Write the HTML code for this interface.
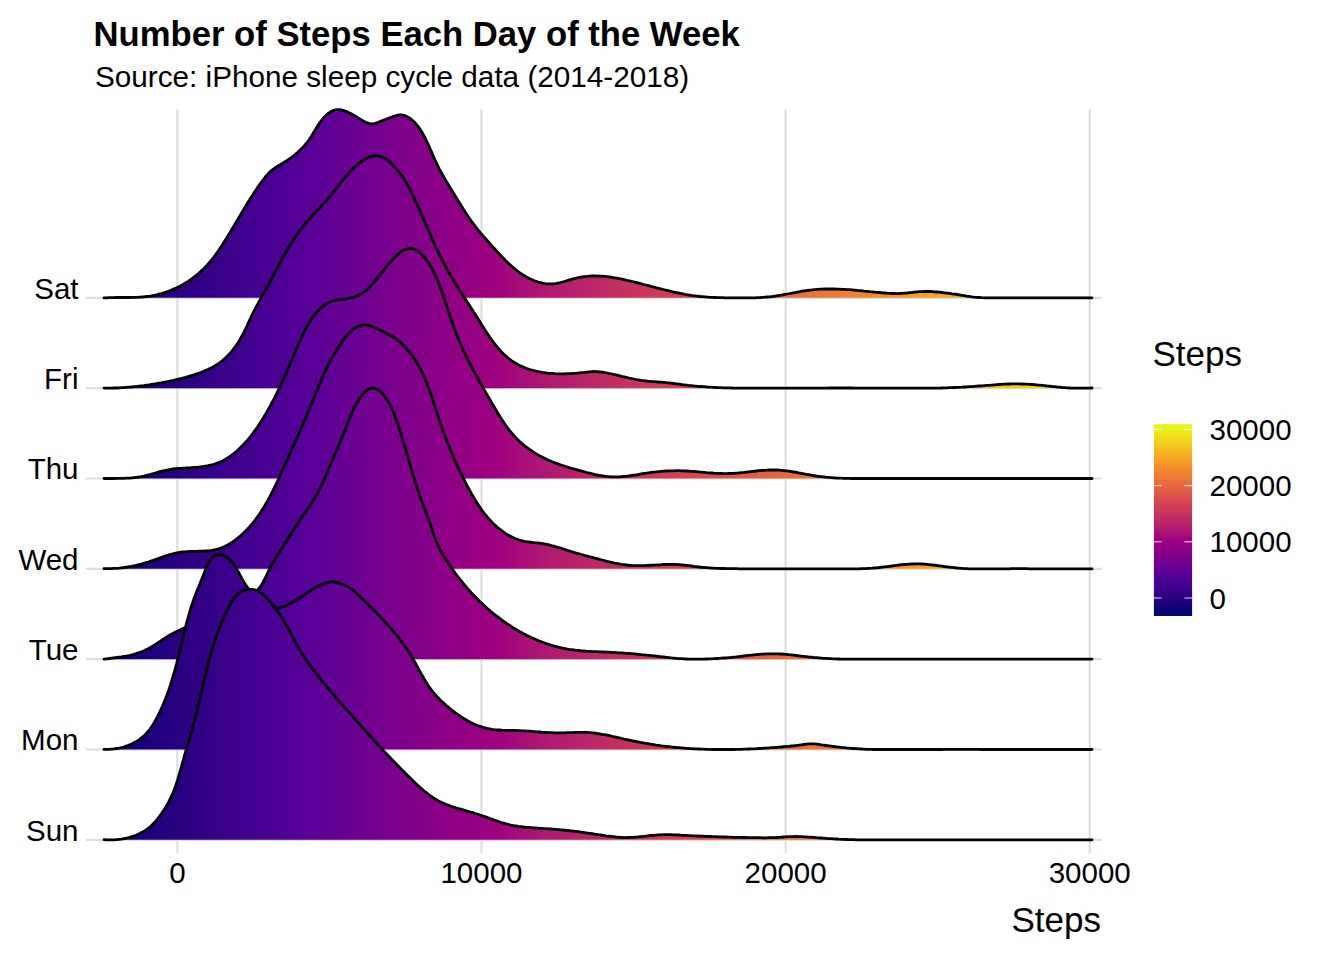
<!DOCTYPE html><html><head><meta charset="utf-8"><style>html,body{margin:0;padding:0;background:#fff;overflow:hidden}svg{display:block}</style></head><body><svg width="1344" height="960" viewBox="0 0 1344 960"><defs><linearGradient id="g" gradientUnits="userSpaceOnUse" x1="104.0" y1="0" x2="1092.0" y2="0"><stop offset="0.0000" stop-color="#060375"/><stop offset="0.0250" stop-color="#140279"/><stop offset="0.0500" stop-color="#1f017e"/><stop offset="0.0750" stop-color="#290082"/><stop offset="0.1000" stop-color="#320086"/><stop offset="0.1250" stop-color="#3b008b"/><stop offset="0.1500" stop-color="#440090"/><stop offset="0.1750" stop-color="#4d0094"/><stop offset="0.2000" stop-color="#560099"/><stop offset="0.2250" stop-color="#600096"/><stop offset="0.2500" stop-color="#6a0093"/><stop offset="0.2750" stop-color="#74008f"/><stop offset="0.3000" stop-color="#7d008c"/><stop offset="0.3250" stop-color="#860089"/><stop offset="0.3500" stop-color="#8f0085"/><stop offset="0.3750" stop-color="#970082"/><stop offset="0.4000" stop-color="#a0037f"/><stop offset="0.4250" stop-color="#a70f79"/><stop offset="0.4500" stop-color="#af1973"/><stop offset="0.4750" stop-color="#b6216d"/><stop offset="0.5000" stop-color="#bd2967"/><stop offset="0.5250" stop-color="#c33161"/><stop offset="0.5500" stop-color="#ca385b"/><stop offset="0.5750" stop-color="#d03f55"/><stop offset="0.6000" stop-color="#d7464f"/><stop offset="0.6250" stop-color="#db504b"/><stop offset="0.6500" stop-color="#df5a47"/><stop offset="0.6750" stop-color="#e36342"/><stop offset="0.7000" stop-color="#e86c3e"/><stop offset="0.7250" stop-color="#eb7538"/><stop offset="0.7500" stop-color="#ef7e33"/><stop offset="0.7750" stop-color="#f3882d"/><stop offset="0.8000" stop-color="#f79126"/><stop offset="0.8250" stop-color="#f69d25"/><stop offset="0.8500" stop-color="#f5aa24"/><stop offset="0.8750" stop-color="#f4b622"/><stop offset="0.9000" stop-color="#f2c320"/><stop offset="0.9250" stop-color="#f0cf1e"/><stop offset="0.9500" stop-color="#eedc1c"/><stop offset="0.9750" stop-color="#ebe819"/><stop offset="1.0000" stop-color="#e8f415"/></linearGradient></defs><rect width="1344" height="960" fill="#fff"/><line x1="85.9" x2="1101.8" y1="297.85" y2="297.85" stroke="#dedede" stroke-width="2.2"/><line x1="85.9" x2="1101.8" y1="388.18" y2="388.18" stroke="#dedede" stroke-width="2.2"/><line x1="85.9" x2="1101.8" y1="478.51" y2="478.51" stroke="#dedede" stroke-width="2.2"/><line x1="85.9" x2="1101.8" y1="568.84" y2="568.84" stroke="#dedede" stroke-width="2.2"/><line x1="85.9" x2="1101.8" y1="659.17" y2="659.17" stroke="#dedede" stroke-width="2.2"/><line x1="85.9" x2="1101.8" y1="749.50" y2="749.50" stroke="#dedede" stroke-width="2.2"/><line x1="85.9" x2="1101.8" y1="839.83" y2="839.83" stroke="#dedede" stroke-width="2.2"/><line x1="177.35" x2="177.35" y1="109" y2="853.3" stroke="#dedede" stroke-width="2.2"/><line x1="481.48" x2="481.48" y1="109" y2="853.3" stroke="#dedede" stroke-width="2.2"/><line x1="785.61" x2="785.61" y1="109" y2="853.3" stroke="#dedede" stroke-width="2.2"/><line x1="1089.74" x2="1089.74" y1="109" y2="853.3" stroke="#dedede" stroke-width="2.2"/><path d="M104.03 297.85 L104.03 297.85 L106.5 297.8L109.0 297.7L111.5 297.6L114.0 297.6L116.5 297.5L119.1 297.5L121.6 297.5L124.1 297.5L126.6 297.5L129.1 297.5L131.6 297.4L134.1 297.4L136.6 297.3L139.1 297.1L141.6 297.0L144.1 296.8L146.6 296.5L149.1 296.2L151.5 295.8L154.0 295.3L156.5 294.8L158.9 294.2L161.3 293.6L163.7 292.9L166.1 292.1L168.5 291.3L170.8 290.4L173.1 289.4L175.4 288.4L177.7 287.3L179.9 286.2L182.1 285.0L184.3 283.7L186.4 282.4L188.5 281.1L190.6 279.6L192.6 278.2L194.6 276.7L196.6 275.1L198.5 273.5L200.4 271.8L202.2 270.1L204.0 268.4L205.8 266.6L207.5 264.8L209.1 262.9L210.8 261.0L212.3 259.0L213.9 257.1L215.4 255.1L216.8 253.0L218.3 251.0L219.7 248.9L221.1 246.8L222.5 244.7L223.8 242.6L225.1 240.5L226.4 238.4L227.8 236.2L229.1 234.1L230.3 231.9L231.6 229.8L232.9 227.6L234.2 225.5L235.5 223.3L236.7 221.2L238.0 219.0L239.3 216.9L240.6 214.7L241.9 212.6L243.1 210.4L244.4 208.3L245.7 206.1L247.0 204.0L248.3 201.8L249.7 199.7L251.0 197.6L252.4 195.5L253.7 193.4L255.1 191.3L256.5 189.2L257.9 187.1L259.3 185.1L260.8 183.0L262.2 181.0L263.7 179.0L265.3 177.0L266.9 175.1L268.6 173.3L270.4 171.6L272.4 169.9L274.4 168.4L276.4 167.0L278.5 165.7L280.7 164.4L282.8 163.1L285.0 161.8L287.1 160.4L289.2 159.0L291.2 157.6L293.2 156.1L295.2 154.5L297.1 152.9L298.9 151.2L300.7 149.5L302.5 147.7L304.2 145.9L305.8 144.0L307.4 142.0L308.9 140.0L310.3 137.9L311.6 135.8L312.9 133.7L314.2 131.5L315.5 129.4L316.8 127.2L318.1 125.1L319.5 123.0L321.0 121.0L322.6 119.0L324.2 117.1L326.0 115.4L327.9 113.7L329.9 112.3L332.1 111.0L334.4 110.1L336.9 109.7L339.4 109.6L341.9 110.0L344.3 110.7L346.6 111.6L348.9 112.7L351.1 113.8L353.3 115.0L355.5 116.3L357.6 117.6L359.8 118.9L361.9 120.1L364.1 121.4L366.3 122.5L368.7 123.4L371.1 124.0L373.6 123.9L376.0 123.2L378.3 122.3L380.7 121.3L383.0 120.4L385.3 119.5L387.7 118.6L390.0 117.7L392.4 116.9L394.7 116.0L397.1 115.3L399.6 114.9L402.1 115.0L404.5 115.6L406.8 116.5L409.0 117.7L411.1 119.2L413.0 120.8L414.8 122.5L416.4 124.4L418.0 126.4L419.5 128.4L420.8 130.5L422.2 132.6L423.4 134.8L424.6 137.0L425.7 139.2L426.8 141.5L427.9 143.8L428.9 146.0L429.9 148.3L430.9 150.6L431.9 152.9L432.9 155.2L433.9 157.5L434.9 159.8L436.0 162.1L437.1 164.4L438.2 166.6L439.3 168.8L440.5 171.0L441.7 173.2L442.9 175.4L444.2 177.6L445.4 179.8L446.7 181.9L448.0 184.1L449.3 186.2L450.6 188.4L451.9 190.5L453.2 192.6L454.5 194.8L455.8 196.9L457.1 199.0L458.4 201.2L459.7 203.3L461.1 205.4L462.4 207.6L463.7 209.7L465.1 211.8L466.4 213.9L467.8 216.0L469.2 218.1L470.6 220.1L472.1 222.2L473.6 224.2L475.1 226.2L476.6 228.2L478.2 230.1L479.8 232.0L481.4 234.0L483.0 235.9L484.7 237.7L486.4 239.6L488.0 241.5L489.7 243.3L491.4 245.2L493.1 247.1L494.8 248.9L496.4 250.8L498.1 252.6L499.8 254.5L501.5 256.3L503.2 258.1L505.0 259.9L506.8 261.7L508.6 263.4L510.4 265.1L512.3 266.8L514.2 268.4L516.1 270.0L518.1 271.5L520.1 273.0L522.2 274.4L524.3 275.7L526.5 277.0L528.7 278.2L531.0 279.3L533.3 280.3L535.6 281.2L538.0 282.0L540.4 282.6L542.8 283.2L545.3 283.6L547.8 283.8L550.3 283.9L552.8 283.8L555.3 283.6L557.8 283.1L560.2 282.6L562.6 282.0L565.0 281.3L567.4 280.6L569.8 279.9L572.3 279.2L574.7 278.5L577.1 277.9L579.6 277.4L582.0 277.0L584.5 276.6L587.0 276.3L589.5 276.1L592.0 276.0L594.5 275.9L597.0 276.0L599.5 276.1L602.0 276.2L604.5 276.4L607.0 276.7L609.5 277.0L612.0 277.4L614.4 277.8L616.9 278.2L619.4 278.7L621.8 279.2L624.3 279.7L626.7 280.3L629.2 280.8L631.6 281.4L634.0 282.0L636.5 282.6L638.9 283.2L641.3 283.8L643.7 284.5L646.2 285.1L648.6 285.7L651.0 286.4L653.4 287.0L655.9 287.7L658.3 288.3L660.7 288.9L663.1 289.5L665.6 290.1L668.0 290.7L670.4 291.3L672.9 291.9L675.3 292.4L677.8 292.9L680.2 293.4L682.7 293.9L685.1 294.4L687.6 294.8L690.1 295.2L692.6 295.6L695.0 295.9L697.5 296.2L700.0 296.5L702.5 296.7L705.0 296.9L707.5 297.1L710.0 297.3L712.5 297.4L715.0 297.5L717.5 297.6L720.0 297.7L722.5 297.7L725.0 297.8L727.5 297.8L730.0 297.8L732.6 297.9L735.1 297.9L737.6 297.9L740.1 297.9L742.6 297.9L745.1 297.9L747.6 297.9L750.1 297.9L752.6 297.8L755.1 297.8L757.6 297.7L760.1 297.6L762.6 297.4L765.1 297.2L767.6 297.0L770.1 296.8L772.6 296.5L775.1 296.1L777.5 295.7L780.0 295.3L782.5 294.9L784.9 294.5L787.4 294.0L789.9 293.5L792.3 293.0L794.8 292.6L797.3 292.1L799.7 291.7L802.2 291.2L804.7 290.8L807.1 290.5L809.6 290.1L812.1 289.9L814.6 289.6L817.1 289.4L819.6 289.2L822.1 289.1L824.6 289.0L827.1 289.0L829.6 288.9L832.1 289.0L834.6 289.0L837.1 289.1L839.6 289.1L842.1 289.3L844.6 289.4L847.1 289.6L849.6 289.7L852.1 289.9L854.6 290.1L857.1 290.4L859.6 290.6L862.1 290.8L864.6 291.1L867.1 291.3L869.6 291.6L872.1 291.8L874.6 292.1L877.1 292.3L879.6 292.5L882.1 292.8L884.6 293.0L887.1 293.2L889.6 293.3L892.1 293.5L894.6 293.5L897.1 293.6L899.6 293.5L902.1 293.4L904.6 293.2L907.1 293.0L909.6 292.7L912.1 292.5L914.5 292.2L917.0 291.9L919.5 291.7L922.0 291.6L924.5 291.5L927.0 291.5L929.5 291.5L932.1 291.6L934.6 291.8L937.1 292.0L939.5 292.2L942.0 292.5L944.5 292.8L947.0 293.1L949.5 293.4L952.0 293.8L954.5 294.1L956.9 294.5L959.4 294.9L961.9 295.3L964.4 295.7L966.8 296.1L969.3 296.4L971.8 296.8L974.3 297.1L976.8 297.3L979.3 297.5L981.8 297.7L984.3 297.8L986.8 297.8L989.3 297.9L991.8 297.9L994.3 297.9L996.8 297.9L999.3 297.9L1001.8 297.9L1004.3 297.9L1006.8 297.8L1009.3 297.8L1011.8 297.8L1014.3 297.8L1016.8 297.8L1019.3 297.8L1021.9 297.8L1024.4 297.8L1026.9 297.8L1029.4 297.8L1031.9 297.8L1034.4 297.8L1036.9 297.8L1039.4 297.8L1041.9 297.8L1044.4 297.8L1046.9 297.8L1049.4 297.8L1051.9 297.9L1054.4 297.9L1056.9 297.9L1059.4 297.9L1061.9 297.9L1064.4 297.9L1066.9 297.9L1069.5 297.9L1072.0 297.9L1074.5 297.9L1077.0 297.9L1079.5 297.9L1082.0 297.9L1084.5 297.9L1087.0 297.8L1089.5 297.8L1092.0 297.8 L1092.00 297.85 Z" fill="url(#g)"/><path d="M104.03 297.85 L106.5 297.8L109.0 297.7L111.5 297.6L114.0 297.6L116.5 297.5L119.1 297.5L121.6 297.5L124.1 297.5L126.6 297.5L129.1 297.5L131.6 297.4L134.1 297.4L136.6 297.3L139.1 297.1L141.6 297.0L144.1 296.8L146.6 296.5L149.1 296.2L151.5 295.8L154.0 295.3L156.5 294.8L158.9 294.2L161.3 293.6L163.7 292.9L166.1 292.1L168.5 291.3L170.8 290.4L173.1 289.4L175.4 288.4L177.7 287.3L179.9 286.2L182.1 285.0L184.3 283.7L186.4 282.4L188.5 281.1L190.6 279.6L192.6 278.2L194.6 276.7L196.6 275.1L198.5 273.5L200.4 271.8L202.2 270.1L204.0 268.4L205.8 266.6L207.5 264.8L209.1 262.9L210.8 261.0L212.3 259.0L213.9 257.1L215.4 255.1L216.8 253.0L218.3 251.0L219.7 248.9L221.1 246.8L222.5 244.7L223.8 242.6L225.1 240.5L226.4 238.4L227.8 236.2L229.1 234.1L230.3 231.9L231.6 229.8L232.9 227.6L234.2 225.5L235.5 223.3L236.7 221.2L238.0 219.0L239.3 216.9L240.6 214.7L241.9 212.6L243.1 210.4L244.4 208.3L245.7 206.1L247.0 204.0L248.3 201.8L249.7 199.7L251.0 197.6L252.4 195.5L253.7 193.4L255.1 191.3L256.5 189.2L257.9 187.1L259.3 185.1L260.8 183.0L262.2 181.0L263.7 179.0L265.3 177.0L266.9 175.1L268.6 173.3L270.4 171.6L272.4 169.9L274.4 168.4L276.4 167.0L278.5 165.7L280.7 164.4L282.8 163.1L285.0 161.8L287.1 160.4L289.2 159.0L291.2 157.6L293.2 156.1L295.2 154.5L297.1 152.9L298.9 151.2L300.7 149.5L302.5 147.7L304.2 145.9L305.8 144.0L307.4 142.0L308.9 140.0L310.3 137.9L311.6 135.8L312.9 133.7L314.2 131.5L315.5 129.4L316.8 127.2L318.1 125.1L319.5 123.0L321.0 121.0L322.6 119.0L324.2 117.1L326.0 115.4L327.9 113.7L329.9 112.3L332.1 111.0L334.4 110.1L336.9 109.7L339.4 109.6L341.9 110.0L344.3 110.7L346.6 111.6L348.9 112.7L351.1 113.8L353.3 115.0L355.5 116.3L357.6 117.6L359.8 118.9L361.9 120.1L364.1 121.4L366.3 122.5L368.7 123.4L371.1 124.0L373.6 123.9L376.0 123.2L378.3 122.3L380.7 121.3L383.0 120.4L385.3 119.5L387.7 118.6L390.0 117.7L392.4 116.9L394.7 116.0L397.1 115.3L399.6 114.9L402.1 115.0L404.5 115.6L406.8 116.5L409.0 117.7L411.1 119.2L413.0 120.8L414.8 122.5L416.4 124.4L418.0 126.4L419.5 128.4L420.8 130.5L422.2 132.6L423.4 134.8L424.6 137.0L425.7 139.2L426.8 141.5L427.9 143.8L428.9 146.0L429.9 148.3L430.9 150.6L431.9 152.9L432.9 155.2L433.9 157.5L434.9 159.8L436.0 162.1L437.1 164.4L438.2 166.6L439.3 168.8L440.5 171.0L441.7 173.2L442.9 175.4L444.2 177.6L445.4 179.8L446.7 181.9L448.0 184.1L449.3 186.2L450.6 188.4L451.9 190.5L453.2 192.6L454.5 194.8L455.8 196.9L457.1 199.0L458.4 201.2L459.7 203.3L461.1 205.4L462.4 207.6L463.7 209.7L465.1 211.8L466.4 213.9L467.8 216.0L469.2 218.1L470.6 220.1L472.1 222.2L473.6 224.2L475.1 226.2L476.6 228.2L478.2 230.1L479.8 232.0L481.4 234.0L483.0 235.9L484.7 237.7L486.4 239.6L488.0 241.5L489.7 243.3L491.4 245.2L493.1 247.1L494.8 248.9L496.4 250.8L498.1 252.6L499.8 254.5L501.5 256.3L503.2 258.1L505.0 259.9L506.8 261.7L508.6 263.4L510.4 265.1L512.3 266.8L514.2 268.4L516.1 270.0L518.1 271.5L520.1 273.0L522.2 274.4L524.3 275.7L526.5 277.0L528.7 278.2L531.0 279.3L533.3 280.3L535.6 281.2L538.0 282.0L540.4 282.6L542.8 283.2L545.3 283.6L547.8 283.8L550.3 283.9L552.8 283.8L555.3 283.6L557.8 283.1L560.2 282.6L562.6 282.0L565.0 281.3L567.4 280.6L569.8 279.9L572.3 279.2L574.7 278.5L577.1 277.9L579.6 277.4L582.0 277.0L584.5 276.6L587.0 276.3L589.5 276.1L592.0 276.0L594.5 275.9L597.0 276.0L599.5 276.1L602.0 276.2L604.5 276.4L607.0 276.7L609.5 277.0L612.0 277.4L614.4 277.8L616.9 278.2L619.4 278.7L621.8 279.2L624.3 279.7L626.7 280.3L629.2 280.8L631.6 281.4L634.0 282.0L636.5 282.6L638.9 283.2L641.3 283.8L643.7 284.5L646.2 285.1L648.6 285.7L651.0 286.4L653.4 287.0L655.9 287.7L658.3 288.3L660.7 288.9L663.1 289.5L665.6 290.1L668.0 290.7L670.4 291.3L672.9 291.9L675.3 292.4L677.8 292.9L680.2 293.4L682.7 293.9L685.1 294.4L687.6 294.8L690.1 295.2L692.6 295.6L695.0 295.9L697.5 296.2L700.0 296.5L702.5 296.7L705.0 296.9L707.5 297.1L710.0 297.3L712.5 297.4L715.0 297.5L717.5 297.6L720.0 297.7L722.5 297.7L725.0 297.8L727.5 297.8L730.0 297.8L732.6 297.9L735.1 297.9L737.6 297.9L740.1 297.9L742.6 297.9L745.1 297.9L747.6 297.9L750.1 297.9L752.6 297.8L755.1 297.8L757.6 297.7L760.1 297.6L762.6 297.4L765.1 297.2L767.6 297.0L770.1 296.8L772.6 296.5L775.1 296.1L777.5 295.7L780.0 295.3L782.5 294.9L784.9 294.5L787.4 294.0L789.9 293.5L792.3 293.0L794.8 292.6L797.3 292.1L799.7 291.7L802.2 291.2L804.7 290.8L807.1 290.5L809.6 290.1L812.1 289.9L814.6 289.6L817.1 289.4L819.6 289.2L822.1 289.1L824.6 289.0L827.1 289.0L829.6 288.9L832.1 289.0L834.6 289.0L837.1 289.1L839.6 289.1L842.1 289.3L844.6 289.4L847.1 289.6L849.6 289.7L852.1 289.9L854.6 290.1L857.1 290.4L859.6 290.6L862.1 290.8L864.6 291.1L867.1 291.3L869.6 291.6L872.1 291.8L874.6 292.1L877.1 292.3L879.6 292.5L882.1 292.8L884.6 293.0L887.1 293.2L889.6 293.3L892.1 293.5L894.6 293.5L897.1 293.6L899.6 293.5L902.1 293.4L904.6 293.2L907.1 293.0L909.6 292.7L912.1 292.5L914.5 292.2L917.0 291.9L919.5 291.7L922.0 291.6L924.5 291.5L927.0 291.5L929.5 291.5L932.1 291.6L934.6 291.8L937.1 292.0L939.5 292.2L942.0 292.5L944.5 292.8L947.0 293.1L949.5 293.4L952.0 293.8L954.5 294.1L956.9 294.5L959.4 294.9L961.9 295.3L964.4 295.7L966.8 296.1L969.3 296.4L971.8 296.8L974.3 297.1L976.8 297.3L979.3 297.5L981.8 297.7L984.3 297.8L986.8 297.8L989.3 297.9L991.8 297.9L994.3 297.9L996.8 297.9L999.3 297.9L1001.8 297.9L1004.3 297.9L1006.8 297.8L1009.3 297.8L1011.8 297.8L1014.3 297.8L1016.8 297.8L1019.3 297.8L1021.9 297.8L1024.4 297.8L1026.9 297.8L1029.4 297.8L1031.9 297.8L1034.4 297.8L1036.9 297.8L1039.4 297.8L1041.9 297.8L1044.4 297.8L1046.9 297.8L1049.4 297.8L1051.9 297.9L1054.4 297.9L1056.9 297.9L1059.4 297.9L1061.9 297.9L1064.4 297.9L1066.9 297.9L1069.5 297.9L1072.0 297.9L1074.5 297.9L1077.0 297.9L1079.5 297.9L1082.0 297.9L1084.5 297.9L1087.0 297.8L1089.5 297.8L1092.0 297.8" fill="none" stroke="#000" stroke-width="2.8" stroke-linejoin="round" stroke-linecap="round"/><path d="M104.00 388.18 L104.00 388.04 L106.5 388.1L109.0 388.1L111.5 388.1L114.0 388.0L116.5 388.0L119.0 387.9L121.5 387.7L124.0 387.6L126.5 387.4L129.0 387.2L131.5 387.0L134.0 386.7L136.5 386.5L139.0 386.2L141.5 385.9L144.0 385.6L146.5 385.2L149.0 384.9L151.4 384.5L153.9 384.1L156.4 383.7L158.9 383.2L161.3 382.8L163.8 382.3L166.3 381.8L168.7 381.3L171.2 380.8L173.6 380.3L176.1 379.7L178.5 379.1L180.9 378.5L183.4 377.9L185.8 377.3L188.2 376.6L190.6 375.9L193.0 375.2L195.4 374.4L197.8 373.6L200.2 372.8L202.5 371.9L204.8 370.9L207.1 369.9L209.4 368.8L211.6 367.7L213.8 366.5L216.0 365.2L218.1 363.8L220.1 362.4L222.1 360.9L224.0 359.3L225.9 357.6L227.7 355.8L229.4 354.0L231.1 352.1L232.7 350.2L234.2 348.2L235.7 346.2L237.1 344.1L238.5 342.0L239.8 339.9L241.0 337.7L242.2 335.5L243.4 333.3L244.5 331.0L245.6 328.8L246.7 326.5L247.7 324.2L248.8 322.0L249.9 319.7L250.9 317.4L252.0 315.2L253.1 312.9L254.3 310.7L255.4 308.4L256.6 306.2L257.8 304.0L258.9 301.8L260.2 299.6L261.4 297.4L262.6 295.2L263.8 293.0L265.0 290.8L266.2 288.6L267.5 286.5L268.7 284.3L269.9 282.1L271.1 279.8L272.2 277.6L273.4 275.4L274.6 273.2L275.7 271.0L276.9 268.7L278.1 266.5L279.2 264.3L280.4 262.1L281.6 259.9L282.8 257.7L284.0 255.5L285.2 253.3L286.5 251.1L287.8 249.0L289.0 246.8L290.4 244.7L291.7 242.5L293.1 240.4L294.5 238.4L295.9 236.3L297.3 234.2L298.8 232.2L300.3 230.2L301.8 228.2L303.3 226.2L304.9 224.3L306.5 222.3L308.1 220.4L309.8 218.5L311.4 216.7L313.1 214.8L314.9 213.0L316.6 211.2L318.3 209.4L320.1 207.6L321.8 205.8L323.6 203.9L325.3 202.1L326.9 200.2L328.5 198.3L330.1 196.4L331.7 194.4L333.2 192.4L334.8 190.4L336.3 188.5L337.8 186.5L339.4 184.5L340.9 182.5L342.5 180.6L344.1 178.6L345.7 176.7L347.3 174.8L349.0 172.9L350.7 171.1L352.5 169.3L354.3 167.6L356.2 165.9L358.1 164.3L360.0 162.7L362.0 161.2L364.1 159.8L366.2 158.5L368.5 157.3L370.8 156.4L373.2 155.8L375.7 155.6L378.2 155.8L380.6 156.5L382.9 157.4L385.2 158.6L387.3 159.9L389.3 161.5L391.1 163.2L392.8 165.0L394.5 166.9L396.1 168.8L397.8 170.6L399.4 172.6L400.9 174.5L402.4 176.6L403.8 178.7L405.1 180.8L406.4 183.0L407.6 185.1L408.8 187.4L410.0 189.6L411.1 191.8L412.2 194.1L413.3 196.3L414.4 198.6L415.4 200.9L416.5 203.1L417.5 205.4L418.6 207.7L419.6 210.0L420.6 212.3L421.6 214.6L422.6 216.9L423.6 219.2L424.6 221.5L425.6 223.8L426.6 226.1L427.6 228.4L428.6 230.7L429.6 233.0L430.6 235.3L431.6 237.6L432.6 239.9L433.6 242.2L434.7 244.5L435.7 246.7L436.8 249.0L437.9 251.3L439.0 253.5L440.1 255.8L441.2 258.0L442.3 260.3L443.5 262.5L444.7 264.7L445.8 266.9L447.0 269.1L448.3 271.3L449.5 273.5L450.7 275.7L452.0 277.8L453.3 280.0L454.6 282.2L455.9 284.3L457.2 286.4L458.5 288.6L459.9 290.7L461.2 292.8L462.6 294.9L463.9 297.0L465.3 299.1L466.7 301.2L468.1 303.3L469.4 305.4L470.8 307.5L472.2 309.6L473.5 311.7L474.9 313.8L476.2 315.9L477.6 318.0L478.9 320.2L480.2 322.3L481.5 324.4L482.9 326.6L484.2 328.7L485.6 330.8L486.9 332.9L488.3 335.0L489.7 337.1L491.1 339.1L492.6 341.2L494.1 343.2L495.7 345.1L497.3 347.1L498.9 349.0L500.6 350.9L502.3 352.7L504.1 354.4L505.9 356.1L507.8 357.8L509.8 359.4L511.8 360.8L513.9 362.2L516.0 363.5L518.2 364.8L520.4 365.9L522.7 366.9L525.1 367.9L527.4 368.7L529.8 369.5L532.2 370.2L534.6 370.8L537.1 371.4L539.5 371.9L542.0 372.4L544.5 372.7L547.0 373.1L549.5 373.3L552.0 373.5L554.5 373.7L557.0 373.8L559.5 373.8L562.0 373.8L564.5 373.8L567.0 373.7L569.5 373.6L572.0 373.5L574.5 373.3L577.0 373.1L579.5 372.8L582.0 372.6L584.5 372.4L587.0 372.1L589.5 371.8L592.0 371.6L594.5 371.5L597.0 371.6L599.5 371.8L602.0 372.1L604.5 372.5L606.9 373.0L609.4 373.5L611.8 374.0L614.3 374.5L616.7 375.1L619.2 375.7L621.6 376.3L624.0 376.8L626.5 377.4L628.9 378.0L631.4 378.5L633.8 379.0L636.3 379.5L638.8 380.0L641.2 380.4L643.7 380.7L646.2 381.0L648.7 381.3L651.2 381.5L653.7 381.6L656.2 381.8L658.7 382.0L661.2 382.1L663.7 382.3L666.2 382.6L668.7 382.8L671.2 383.1L673.7 383.5L676.2 383.8L678.7 384.1L681.1 384.5L683.6 384.8L686.1 385.1L688.6 385.4L691.1 385.6L693.6 385.9L696.1 386.1L698.6 386.3L701.1 386.5L703.6 386.7L706.1 386.9L708.6 387.1L711.1 387.2L713.6 387.3L716.1 387.5L718.6 387.6L721.1 387.7L723.6 387.8L726.1 387.9L728.7 387.9L731.2 388.0L733.7 388.1L736.2 388.1L738.7 388.2L741.2 388.2L743.7 388.2L746.2 388.2L748.7 388.2L751.2 388.2L753.7 388.2L756.2 388.2L758.7 388.2L761.3 388.2L763.8 388.2L766.3 388.2L768.8 388.2L771.3 388.2L773.8 388.2L776.3 388.2L778.8 388.2L781.3 388.2L783.8 388.2L786.3 388.2L788.8 388.2L791.4 388.2L793.9 388.2L796.4 388.2L798.9 388.2L801.4 388.2L803.9 388.2L806.4 388.2L808.9 388.1L811.4 388.1L813.9 388.1L816.4 388.1L818.9 388.1L821.5 388.1L824.0 388.1L826.5 388.1L829.0 388.0L831.5 388.0L834.0 388.0L836.5 388.0L839.0 388.0L841.5 388.0L844.0 388.0L846.5 388.0L849.0 388.0L851.5 388.0L854.1 388.1L856.6 388.1L859.1 388.1L861.6 388.1L864.1 388.1L866.6 388.1L869.1 388.2L871.6 388.2L874.1 388.2L876.6 388.2L879.1 388.2L881.6 388.2L884.2 388.2L886.7 388.2L889.2 388.2L891.7 388.2L894.2 388.2L896.7 388.2L899.2 388.2L901.7 388.2L904.2 388.2L906.7 388.2L909.2 388.2L911.7 388.2L914.2 388.2L916.8 388.2L919.3 388.2L921.8 388.2L924.3 388.2L926.8 388.2L929.3 388.2L931.8 388.2L934.3 388.2L936.8 388.1L939.3 388.1L941.8 388.0L944.3 387.9L946.8 387.8L949.4 387.7L951.9 387.6L954.4 387.5L956.9 387.4L959.4 387.3L961.9 387.2L964.4 387.0L966.9 386.9L969.4 386.7L971.9 386.6L974.4 386.4L976.9 386.2L979.4 386.0L981.9 385.8L984.4 385.6L986.9 385.4L989.4 385.3L991.9 385.1L994.4 384.9L996.9 384.7L999.4 384.5L1001.9 384.4L1004.4 384.2L1006.9 384.1L1009.4 384.0L1011.9 383.9L1014.4 383.9L1017.0 383.9L1019.5 383.9L1022.0 384.0L1024.5 384.1L1027.0 384.2L1029.5 384.4L1032.0 384.5L1034.5 384.7L1037.0 385.0L1039.5 385.2L1042.0 385.4L1044.5 385.7L1047.0 386.0L1049.5 386.2L1052.0 386.5L1054.4 386.7L1056.9 387.0L1059.4 387.2L1061.9 387.5L1064.4 387.7L1066.9 387.9L1069.4 388.0L1071.9 388.2L1074.4 388.2L1077.0 388.2L1079.5 388.2L1082.0 388.2L1084.5 388.2L1087.0 388.2L1089.5 388.2L1092.0 388.0 L1091.99 388.18 Z" fill="url(#g)"/><path d="M104.00 388.04 L106.5 388.1L109.0 388.1L111.5 388.1L114.0 388.0L116.5 388.0L119.0 387.9L121.5 387.7L124.0 387.6L126.5 387.4L129.0 387.2L131.5 387.0L134.0 386.7L136.5 386.5L139.0 386.2L141.5 385.9L144.0 385.6L146.5 385.2L149.0 384.9L151.4 384.5L153.9 384.1L156.4 383.7L158.9 383.2L161.3 382.8L163.8 382.3L166.3 381.8L168.7 381.3L171.2 380.8L173.6 380.3L176.1 379.7L178.5 379.1L180.9 378.5L183.4 377.9L185.8 377.3L188.2 376.6L190.6 375.9L193.0 375.2L195.4 374.4L197.8 373.6L200.2 372.8L202.5 371.9L204.8 370.9L207.1 369.9L209.4 368.8L211.6 367.7L213.8 366.5L216.0 365.2L218.1 363.8L220.1 362.4L222.1 360.9L224.0 359.3L225.9 357.6L227.7 355.8L229.4 354.0L231.1 352.1L232.7 350.2L234.2 348.2L235.7 346.2L237.1 344.1L238.5 342.0L239.8 339.9L241.0 337.7L242.2 335.5L243.4 333.3L244.5 331.0L245.6 328.8L246.7 326.5L247.7 324.2L248.8 322.0L249.9 319.7L250.9 317.4L252.0 315.2L253.1 312.9L254.3 310.7L255.4 308.4L256.6 306.2L257.8 304.0L258.9 301.8L260.2 299.6L261.4 297.4L262.6 295.2L263.8 293.0L265.0 290.8L266.2 288.6L267.5 286.5L268.7 284.3L269.9 282.1L271.1 279.8L272.2 277.6L273.4 275.4L274.6 273.2L275.7 271.0L276.9 268.7L278.1 266.5L279.2 264.3L280.4 262.1L281.6 259.9L282.8 257.7L284.0 255.5L285.2 253.3L286.5 251.1L287.8 249.0L289.0 246.8L290.4 244.7L291.7 242.5L293.1 240.4L294.5 238.4L295.9 236.3L297.3 234.2L298.8 232.2L300.3 230.2L301.8 228.2L303.3 226.2L304.9 224.3L306.5 222.3L308.1 220.4L309.8 218.5L311.4 216.7L313.1 214.8L314.9 213.0L316.6 211.2L318.3 209.4L320.1 207.6L321.8 205.8L323.6 203.9L325.3 202.1L326.9 200.2L328.5 198.3L330.1 196.4L331.7 194.4L333.2 192.4L334.8 190.4L336.3 188.5L337.8 186.5L339.4 184.5L340.9 182.5L342.5 180.6L344.1 178.6L345.7 176.7L347.3 174.8L349.0 172.9L350.7 171.1L352.5 169.3L354.3 167.6L356.2 165.9L358.1 164.3L360.0 162.7L362.0 161.2L364.1 159.8L366.2 158.5L368.5 157.3L370.8 156.4L373.2 155.8L375.7 155.6L378.2 155.8L380.6 156.5L382.9 157.4L385.2 158.6L387.3 159.9L389.3 161.5L391.1 163.2L392.8 165.0L394.5 166.9L396.1 168.8L397.8 170.6L399.4 172.6L400.9 174.5L402.4 176.6L403.8 178.7L405.1 180.8L406.4 183.0L407.6 185.1L408.8 187.4L410.0 189.6L411.1 191.8L412.2 194.1L413.3 196.3L414.4 198.6L415.4 200.9L416.5 203.1L417.5 205.4L418.6 207.7L419.6 210.0L420.6 212.3L421.6 214.6L422.6 216.9L423.6 219.2L424.6 221.5L425.6 223.8L426.6 226.1L427.6 228.4L428.6 230.7L429.6 233.0L430.6 235.3L431.6 237.6L432.6 239.9L433.6 242.2L434.7 244.5L435.7 246.7L436.8 249.0L437.9 251.3L439.0 253.5L440.1 255.8L441.2 258.0L442.3 260.3L443.5 262.5L444.7 264.7L445.8 266.9L447.0 269.1L448.3 271.3L449.5 273.5L450.7 275.7L452.0 277.8L453.3 280.0L454.6 282.2L455.9 284.3L457.2 286.4L458.5 288.6L459.9 290.7L461.2 292.8L462.6 294.9L463.9 297.0L465.3 299.1L466.7 301.2L468.1 303.3L469.4 305.4L470.8 307.5L472.2 309.6L473.5 311.7L474.9 313.8L476.2 315.9L477.6 318.0L478.9 320.2L480.2 322.3L481.5 324.4L482.9 326.6L484.2 328.7L485.6 330.8L486.9 332.9L488.3 335.0L489.7 337.1L491.1 339.1L492.6 341.2L494.1 343.2L495.7 345.1L497.3 347.1L498.9 349.0L500.6 350.9L502.3 352.7L504.1 354.4L505.9 356.1L507.8 357.8L509.8 359.4L511.8 360.8L513.9 362.2L516.0 363.5L518.2 364.8L520.4 365.9L522.7 366.9L525.1 367.9L527.4 368.7L529.8 369.5L532.2 370.2L534.6 370.8L537.1 371.4L539.5 371.9L542.0 372.4L544.5 372.7L547.0 373.1L549.5 373.3L552.0 373.5L554.5 373.7L557.0 373.8L559.5 373.8L562.0 373.8L564.5 373.8L567.0 373.7L569.5 373.6L572.0 373.5L574.5 373.3L577.0 373.1L579.5 372.8L582.0 372.6L584.5 372.4L587.0 372.1L589.5 371.8L592.0 371.6L594.5 371.5L597.0 371.6L599.5 371.8L602.0 372.1L604.5 372.5L606.9 373.0L609.4 373.5L611.8 374.0L614.3 374.5L616.7 375.1L619.2 375.7L621.6 376.3L624.0 376.8L626.5 377.4L628.9 378.0L631.4 378.5L633.8 379.0L636.3 379.5L638.8 380.0L641.2 380.4L643.7 380.7L646.2 381.0L648.7 381.3L651.2 381.5L653.7 381.6L656.2 381.8L658.7 382.0L661.2 382.1L663.7 382.3L666.2 382.6L668.7 382.8L671.2 383.1L673.7 383.5L676.2 383.8L678.7 384.1L681.1 384.5L683.6 384.8L686.1 385.1L688.6 385.4L691.1 385.6L693.6 385.9L696.1 386.1L698.6 386.3L701.1 386.5L703.6 386.7L706.1 386.9L708.6 387.1L711.1 387.2L713.6 387.3L716.1 387.5L718.6 387.6L721.1 387.7L723.6 387.8L726.1 387.9L728.7 387.9L731.2 388.0L733.7 388.1L736.2 388.1L738.7 388.2L741.2 388.2L743.7 388.2L746.2 388.2L748.7 388.2L751.2 388.2L753.7 388.2L756.2 388.2L758.7 388.2L761.3 388.2L763.8 388.2L766.3 388.2L768.8 388.2L771.3 388.2L773.8 388.2L776.3 388.2L778.8 388.2L781.3 388.2L783.8 388.2L786.3 388.2L788.8 388.2L791.4 388.2L793.9 388.2L796.4 388.2L798.9 388.2L801.4 388.2L803.9 388.2L806.4 388.2L808.9 388.1L811.4 388.1L813.9 388.1L816.4 388.1L818.9 388.1L821.5 388.1L824.0 388.1L826.5 388.1L829.0 388.0L831.5 388.0L834.0 388.0L836.5 388.0L839.0 388.0L841.5 388.0L844.0 388.0L846.5 388.0L849.0 388.0L851.5 388.0L854.1 388.1L856.6 388.1L859.1 388.1L861.6 388.1L864.1 388.1L866.6 388.1L869.1 388.2L871.6 388.2L874.1 388.2L876.6 388.2L879.1 388.2L881.6 388.2L884.2 388.2L886.7 388.2L889.2 388.2L891.7 388.2L894.2 388.2L896.7 388.2L899.2 388.2L901.7 388.2L904.2 388.2L906.7 388.2L909.2 388.2L911.7 388.2L914.2 388.2L916.8 388.2L919.3 388.2L921.8 388.2L924.3 388.2L926.8 388.2L929.3 388.2L931.8 388.2L934.3 388.2L936.8 388.1L939.3 388.1L941.8 388.0L944.3 387.9L946.8 387.8L949.4 387.7L951.9 387.6L954.4 387.5L956.9 387.4L959.4 387.3L961.9 387.2L964.4 387.0L966.9 386.9L969.4 386.7L971.9 386.6L974.4 386.4L976.9 386.2L979.4 386.0L981.9 385.8L984.4 385.6L986.9 385.4L989.4 385.3L991.9 385.1L994.4 384.9L996.9 384.7L999.4 384.5L1001.9 384.4L1004.4 384.2L1006.9 384.1L1009.4 384.0L1011.9 383.9L1014.4 383.9L1017.0 383.9L1019.5 383.9L1022.0 384.0L1024.5 384.1L1027.0 384.2L1029.5 384.4L1032.0 384.5L1034.5 384.7L1037.0 385.0L1039.5 385.2L1042.0 385.4L1044.5 385.7L1047.0 386.0L1049.5 386.2L1052.0 386.5L1054.4 386.7L1056.9 387.0L1059.4 387.2L1061.9 387.5L1064.4 387.7L1066.9 387.9L1069.4 388.0L1071.9 388.2L1074.4 388.2L1077.0 388.2L1079.5 388.2L1082.0 388.2L1084.5 388.2L1087.0 388.2L1089.5 388.2L1092.0 388.0" fill="none" stroke="#000" stroke-width="2.8" stroke-linejoin="round" stroke-linecap="round"/><path d="M104.00 478.51 L104.00 478.48 L106.5 478.5L109.0 478.5L111.5 478.5L114.0 478.5L116.5 478.4L119.1 478.4L121.6 478.4L124.1 478.3L126.6 478.2L129.1 478.1L131.6 477.9L134.1 477.6L136.6 477.3L139.1 477.0L141.5 476.5L144.0 476.0L146.4 475.4L148.9 474.8L151.3 474.2L153.7 473.5L156.1 472.8L158.5 472.1L160.9 471.4L163.4 470.8L165.8 470.3L168.3 469.8L170.7 469.4L173.2 469.0L175.7 468.7L178.2 468.5L180.7 468.3L183.2 468.1L185.7 468.0L188.2 467.8L190.7 467.7L193.2 467.5L195.7 467.3L198.2 467.1L200.7 466.8L203.2 466.5L205.7 466.1L208.2 465.7L210.6 465.1L213.1 464.5L215.5 463.8L217.8 462.9L220.1 462.0L222.4 460.9L224.6 459.7L226.8 458.4L228.9 457.1L231.0 455.7L233.0 454.2L234.9 452.6L236.8 451.0L238.7 449.3L240.5 447.5L242.3 445.8L244.0 444.0L245.7 442.1L247.4 440.2L249.0 438.3L250.6 436.4L252.1 434.4L253.6 432.4L255.1 430.4L256.6 428.3L258.0 426.2L259.4 424.1L260.7 422.0L262.1 419.9L263.4 417.8L264.7 415.6L266.0 413.5L267.2 411.3L268.4 409.1L269.7 406.9L270.9 404.7L272.0 402.5L273.2 400.3L274.4 398.1L275.5 395.8L276.6 393.6L277.7 391.3L278.8 389.1L279.9 386.8L281.0 384.5L282.0 382.2L283.1 380.0L284.1 377.7L285.1 375.4L286.1 373.1L287.2 370.8L288.2 368.5L289.2 366.2L290.2 363.9L291.1 361.6L292.1 359.3L293.1 357.0L294.1 354.7L295.1 352.4L296.1 350.0L297.0 347.7L298.0 345.4L299.0 343.1L300.0 340.8L301.0 338.5L302.0 336.2L303.1 334.0L304.2 331.7L305.3 329.4L306.5 327.2L307.7 325.0L309.0 322.9L310.3 320.7L311.7 318.7L313.2 316.6L314.7 314.7L316.3 312.7L318.0 310.9L319.8 309.1L321.7 307.4L323.6 305.9L325.7 304.4L327.8 303.1L330.1 302.0L332.4 301.2L334.8 300.5L337.3 300.0L339.8 299.6L342.3 299.3L344.8 299.0L347.2 298.6L349.7 298.1L352.1 297.5L354.5 296.8L356.9 295.9L359.2 294.9L361.4 293.7L363.5 292.4L365.5 290.9L367.5 289.3L369.3 287.5L371.0 285.7L372.6 283.8L374.2 281.9L375.8 279.9L377.4 278.0L379.0 276.0L380.5 274.1L382.1 272.1L383.7 270.2L385.3 268.2L386.9 266.3L388.5 264.4L390.1 262.5L391.8 260.6L393.5 258.7L395.2 256.9L397.0 255.1L398.8 253.5L400.8 251.9L402.9 250.6L405.2 249.5L407.6 248.8L410.1 248.5L412.6 248.7L415.0 249.4L417.2 250.5L419.3 252.0L421.1 253.7L422.8 255.5L424.4 257.4L426.0 259.4L427.4 261.5L428.8 263.5L430.2 265.7L431.4 267.8L432.7 270.0L433.8 272.2L434.9 274.5L436.0 276.8L437.0 279.0L438.0 281.4L439.0 283.7L439.9 286.0L440.7 288.4L441.6 290.7L442.4 293.1L443.3 295.5L444.1 297.8L444.9 300.2L445.6 302.6L446.4 305.0L447.2 307.4L448.0 309.8L448.7 312.1L449.5 314.5L450.3 316.9L451.1 319.3L451.9 321.7L452.7 324.0L453.6 326.4L454.4 328.8L455.3 331.1L456.2 333.5L457.1 335.8L458.1 338.1L459.0 340.4L460.0 342.7L461.0 345.0L462.0 347.3L463.1 349.6L464.1 351.9L465.2 354.2L466.3 356.4L467.4 358.7L468.5 360.9L469.7 363.2L470.8 365.4L472.0 367.6L473.1 369.8L474.3 372.0L475.5 374.3L476.7 376.5L477.9 378.7L479.1 380.9L480.4 383.0L481.6 385.2L482.8 387.4L484.1 389.6L485.3 391.8L486.6 393.9L487.8 396.1L489.1 398.3L490.4 400.4L491.6 402.6L492.9 404.8L494.2 406.9L495.5 409.1L496.7 411.3L498.0 413.4L499.3 415.5L500.7 417.7L502.0 419.8L503.4 421.9L504.8 424.0L506.2 426.0L507.7 428.1L509.2 430.1L510.8 432.0L512.4 433.9L514.1 435.8L515.8 437.6L517.5 439.4L519.3 441.2L521.2 442.9L523.1 444.5L525.0 446.1L527.0 447.6L529.0 449.1L531.1 450.5L533.2 451.9L535.3 453.3L537.5 454.6L539.6 455.8L541.9 457.0L544.1 458.1L546.4 459.2L548.6 460.3L550.9 461.2L553.3 462.2L555.6 463.1L558.0 463.9L560.3 464.8L562.7 465.5L565.1 466.3L567.5 467.1L569.9 467.8L572.3 468.5L574.7 469.2L577.2 469.8L579.6 470.5L582.0 471.2L584.4 471.8L586.8 472.5L589.3 473.1L591.7 473.7L594.2 474.3L596.6 474.8L599.1 475.3L601.5 475.7L604.0 476.1L606.5 476.4L609.0 476.6L611.5 476.8L614.0 476.9L616.5 476.9L619.0 476.8L621.5 476.6L624.0 476.4L626.5 476.2L629.0 475.9L631.5 475.5L634.0 475.1L636.5 474.8L638.9 474.4L641.4 473.9L643.9 473.5L646.4 473.2L648.9 472.8L651.3 472.4L653.8 472.1L656.3 471.9L658.8 471.6L661.3 471.4L663.8 471.2L666.3 471.0L668.8 470.9L671.3 470.8L673.9 470.8L676.4 470.7L678.9 470.7L681.4 470.8L683.9 470.9L686.4 471.0L688.9 471.1L691.4 471.3L693.9 471.4L696.4 471.6L698.9 471.9L701.4 472.1L703.9 472.3L706.4 472.6L708.9 472.8L711.4 473.0L713.9 473.2L716.4 473.3L718.9 473.5L721.4 473.5L723.9 473.6L726.4 473.6L728.9 473.5L731.5 473.4L734.0 473.3L736.5 473.1L739.0 472.9L741.5 472.6L744.0 472.4L746.4 472.1L748.9 471.8L751.4 471.5L753.9 471.3L756.4 471.0L758.9 470.7L761.4 470.5L763.9 470.3L766.4 470.2L768.9 470.0L771.4 470.0L773.9 470.0L776.5 470.0L779.0 470.1L781.5 470.3L784.0 470.6L786.5 470.9L788.9 471.2L791.4 471.6L793.9 472.0L796.4 472.4L798.8 472.9L801.3 473.3L803.8 473.8L806.2 474.3L808.7 474.7L811.2 475.2L813.6 475.6L816.1 476.0L818.6 476.3L821.1 476.6L823.6 476.9L826.1 477.2L828.6 477.4L831.1 477.6L833.6 477.8L836.1 478.0L838.6 478.1L841.1 478.2L843.6 478.3L846.1 478.4L848.6 478.4L851.1 478.5L853.6 478.5L856.2 478.5L858.7 478.5L861.2 478.5L863.7 478.5L866.2 478.5L868.7 478.5L871.2 478.5L873.7 478.5L876.2 478.5L878.7 478.5L881.2 478.5L883.8 478.5L886.3 478.5L888.8 478.5L891.3 478.5L893.8 478.5L896.3 478.5L898.8 478.5L901.3 478.5L903.8 478.5L906.3 478.5L908.8 478.5L911.4 478.5L913.9 478.5L916.4 478.5L918.9 478.5L921.4 478.5L923.9 478.5L926.4 478.5L928.9 478.5L931.4 478.5L933.9 478.5L936.4 478.5L939.0 478.5L941.5 478.5L944.0 478.5L946.5 478.5L949.0 478.5L951.5 478.5L954.0 478.5L956.5 478.5L959.0 478.5L961.5 478.5L964.0 478.5L966.6 478.5L969.1 478.5L971.6 478.5L974.1 478.5L976.6 478.5L979.1 478.5L981.6 478.5L984.1 478.5L986.6 478.5L989.1 478.5L991.6 478.5L994.2 478.5L996.7 478.5L999.2 478.5L1001.7 478.5L1004.2 478.5L1006.7 478.5L1009.2 478.5L1011.7 478.5L1014.2 478.5L1016.7 478.5L1019.2 478.5L1021.8 478.5L1024.3 478.5L1026.8 478.5L1029.3 478.5L1031.8 478.5L1034.3 478.5L1036.8 478.5L1039.3 478.5L1041.8 478.5L1044.3 478.5L1046.8 478.5L1049.4 478.5L1051.9 478.5L1054.4 478.5L1056.9 478.5L1059.4 478.5L1061.9 478.5L1064.4 478.5L1066.9 478.5L1069.4 478.5L1071.9 478.5L1074.4 478.5L1077.0 478.5L1079.5 478.5L1082.0 478.5L1084.5 478.5L1087.0 478.5L1089.5 478.5L1092.0 478.5 L1092.00 478.51 Z" fill="url(#g)"/><path d="M104.00 478.48 L106.5 478.5L109.0 478.5L111.5 478.5L114.0 478.5L116.5 478.4L119.1 478.4L121.6 478.4L124.1 478.3L126.6 478.2L129.1 478.1L131.6 477.9L134.1 477.6L136.6 477.3L139.1 477.0L141.5 476.5L144.0 476.0L146.4 475.4L148.9 474.8L151.3 474.2L153.7 473.5L156.1 472.8L158.5 472.1L160.9 471.4L163.4 470.8L165.8 470.3L168.3 469.8L170.7 469.4L173.2 469.0L175.7 468.7L178.2 468.5L180.7 468.3L183.2 468.1L185.7 468.0L188.2 467.8L190.7 467.7L193.2 467.5L195.7 467.3L198.2 467.1L200.7 466.8L203.2 466.5L205.7 466.1L208.2 465.7L210.6 465.1L213.1 464.5L215.5 463.8L217.8 462.9L220.1 462.0L222.4 460.9L224.6 459.7L226.8 458.4L228.9 457.1L231.0 455.7L233.0 454.2L234.9 452.6L236.8 451.0L238.7 449.3L240.5 447.5L242.3 445.8L244.0 444.0L245.7 442.1L247.4 440.2L249.0 438.3L250.6 436.4L252.1 434.4L253.6 432.4L255.1 430.4L256.6 428.3L258.0 426.2L259.4 424.1L260.7 422.0L262.1 419.9L263.4 417.8L264.7 415.6L266.0 413.5L267.2 411.3L268.4 409.1L269.7 406.9L270.9 404.7L272.0 402.5L273.2 400.3L274.4 398.1L275.5 395.8L276.6 393.6L277.7 391.3L278.8 389.1L279.9 386.8L281.0 384.5L282.0 382.2L283.1 380.0L284.1 377.7L285.1 375.4L286.1 373.1L287.2 370.8L288.2 368.5L289.2 366.2L290.2 363.9L291.1 361.6L292.1 359.3L293.1 357.0L294.1 354.7L295.1 352.4L296.1 350.0L297.0 347.7L298.0 345.4L299.0 343.1L300.0 340.8L301.0 338.5L302.0 336.2L303.1 334.0L304.2 331.7L305.3 329.4L306.5 327.2L307.7 325.0L309.0 322.9L310.3 320.7L311.7 318.7L313.2 316.6L314.7 314.7L316.3 312.7L318.0 310.9L319.8 309.1L321.7 307.4L323.6 305.9L325.7 304.4L327.8 303.1L330.1 302.0L332.4 301.2L334.8 300.5L337.3 300.0L339.8 299.6L342.3 299.3L344.8 299.0L347.2 298.6L349.7 298.1L352.1 297.5L354.5 296.8L356.9 295.9L359.2 294.9L361.4 293.7L363.5 292.4L365.5 290.9L367.5 289.3L369.3 287.5L371.0 285.7L372.6 283.8L374.2 281.9L375.8 279.9L377.4 278.0L379.0 276.0L380.5 274.1L382.1 272.1L383.7 270.2L385.3 268.2L386.9 266.3L388.5 264.4L390.1 262.5L391.8 260.6L393.5 258.7L395.2 256.9L397.0 255.1L398.8 253.5L400.8 251.9L402.9 250.6L405.2 249.5L407.6 248.8L410.1 248.5L412.6 248.7L415.0 249.4L417.2 250.5L419.3 252.0L421.1 253.7L422.8 255.5L424.4 257.4L426.0 259.4L427.4 261.5L428.8 263.5L430.2 265.7L431.4 267.8L432.7 270.0L433.8 272.2L434.9 274.5L436.0 276.8L437.0 279.0L438.0 281.4L439.0 283.7L439.9 286.0L440.7 288.4L441.6 290.7L442.4 293.1L443.3 295.5L444.1 297.8L444.9 300.2L445.6 302.6L446.4 305.0L447.2 307.4L448.0 309.8L448.7 312.1L449.5 314.5L450.3 316.9L451.1 319.3L451.9 321.7L452.7 324.0L453.6 326.4L454.4 328.8L455.3 331.1L456.2 333.5L457.1 335.8L458.1 338.1L459.0 340.4L460.0 342.7L461.0 345.0L462.0 347.3L463.1 349.6L464.1 351.9L465.2 354.2L466.3 356.4L467.4 358.7L468.5 360.9L469.7 363.2L470.8 365.4L472.0 367.6L473.1 369.8L474.3 372.0L475.5 374.3L476.7 376.5L477.9 378.7L479.1 380.9L480.4 383.0L481.6 385.2L482.8 387.4L484.1 389.6L485.3 391.8L486.6 393.9L487.8 396.1L489.1 398.3L490.4 400.4L491.6 402.6L492.9 404.8L494.2 406.9L495.5 409.1L496.7 411.3L498.0 413.4L499.3 415.5L500.7 417.7L502.0 419.8L503.4 421.9L504.8 424.0L506.2 426.0L507.7 428.1L509.2 430.1L510.8 432.0L512.4 433.9L514.1 435.8L515.8 437.6L517.5 439.4L519.3 441.2L521.2 442.9L523.1 444.5L525.0 446.1L527.0 447.6L529.0 449.1L531.1 450.5L533.2 451.9L535.3 453.3L537.5 454.6L539.6 455.8L541.9 457.0L544.1 458.1L546.4 459.2L548.6 460.3L550.9 461.2L553.3 462.2L555.6 463.1L558.0 463.9L560.3 464.8L562.7 465.5L565.1 466.3L567.5 467.1L569.9 467.8L572.3 468.5L574.7 469.2L577.2 469.8L579.6 470.5L582.0 471.2L584.4 471.8L586.8 472.5L589.3 473.1L591.7 473.7L594.2 474.3L596.6 474.8L599.1 475.3L601.5 475.7L604.0 476.1L606.5 476.4L609.0 476.6L611.5 476.8L614.0 476.9L616.5 476.9L619.0 476.8L621.5 476.6L624.0 476.4L626.5 476.2L629.0 475.9L631.5 475.5L634.0 475.1L636.5 474.8L638.9 474.4L641.4 473.9L643.9 473.5L646.4 473.2L648.9 472.8L651.3 472.4L653.8 472.1L656.3 471.9L658.8 471.6L661.3 471.4L663.8 471.2L666.3 471.0L668.8 470.9L671.3 470.8L673.9 470.8L676.4 470.7L678.9 470.7L681.4 470.8L683.9 470.9L686.4 471.0L688.9 471.1L691.4 471.3L693.9 471.4L696.4 471.6L698.9 471.9L701.4 472.1L703.9 472.3L706.4 472.6L708.9 472.8L711.4 473.0L713.9 473.2L716.4 473.3L718.9 473.5L721.4 473.5L723.9 473.6L726.4 473.6L728.9 473.5L731.5 473.4L734.0 473.3L736.5 473.1L739.0 472.9L741.5 472.6L744.0 472.4L746.4 472.1L748.9 471.8L751.4 471.5L753.9 471.3L756.4 471.0L758.9 470.7L761.4 470.5L763.9 470.3L766.4 470.2L768.9 470.0L771.4 470.0L773.9 470.0L776.5 470.0L779.0 470.1L781.5 470.3L784.0 470.6L786.5 470.9L788.9 471.2L791.4 471.6L793.9 472.0L796.4 472.4L798.8 472.9L801.3 473.3L803.8 473.8L806.2 474.3L808.7 474.7L811.2 475.2L813.6 475.6L816.1 476.0L818.6 476.3L821.1 476.6L823.6 476.9L826.1 477.2L828.6 477.4L831.1 477.6L833.6 477.8L836.1 478.0L838.6 478.1L841.1 478.2L843.6 478.3L846.1 478.4L848.6 478.4L851.1 478.5L853.6 478.5L856.2 478.5L858.7 478.5L861.2 478.5L863.7 478.5L866.2 478.5L868.7 478.5L871.2 478.5L873.7 478.5L876.2 478.5L878.7 478.5L881.2 478.5L883.8 478.5L886.3 478.5L888.8 478.5L891.3 478.5L893.8 478.5L896.3 478.5L898.8 478.5L901.3 478.5L903.8 478.5L906.3 478.5L908.8 478.5L911.4 478.5L913.9 478.5L916.4 478.5L918.9 478.5L921.4 478.5L923.9 478.5L926.4 478.5L928.9 478.5L931.4 478.5L933.9 478.5L936.4 478.5L939.0 478.5L941.5 478.5L944.0 478.5L946.5 478.5L949.0 478.5L951.5 478.5L954.0 478.5L956.5 478.5L959.0 478.5L961.5 478.5L964.0 478.5L966.6 478.5L969.1 478.5L971.6 478.5L974.1 478.5L976.6 478.5L979.1 478.5L981.6 478.5L984.1 478.5L986.6 478.5L989.1 478.5L991.6 478.5L994.2 478.5L996.7 478.5L999.2 478.5L1001.7 478.5L1004.2 478.5L1006.7 478.5L1009.2 478.5L1011.7 478.5L1014.2 478.5L1016.7 478.5L1019.2 478.5L1021.8 478.5L1024.3 478.5L1026.8 478.5L1029.3 478.5L1031.8 478.5L1034.3 478.5L1036.8 478.5L1039.3 478.5L1041.8 478.5L1044.3 478.5L1046.8 478.5L1049.4 478.5L1051.9 478.5L1054.4 478.5L1056.9 478.5L1059.4 478.5L1061.9 478.5L1064.4 478.5L1066.9 478.5L1069.4 478.5L1071.9 478.5L1074.4 478.5L1077.0 478.5L1079.5 478.5L1082.0 478.5L1084.5 478.5L1087.0 478.5L1089.5 478.5L1092.0 478.5" fill="none" stroke="#000" stroke-width="2.8" stroke-linejoin="round" stroke-linecap="round"/><path d="M104.00 568.84 L104.00 568.69 L106.5 568.7L109.0 568.7L111.5 568.6L114.0 568.4L116.5 568.3L119.0 568.1L121.5 567.8L124.0 567.5L126.5 567.1L128.9 566.7L131.4 566.3L133.9 565.8L136.3 565.3L138.8 564.7L141.2 564.1L143.6 563.4L146.0 562.7L148.4 562.0L150.8 561.2L153.2 560.4L155.5 559.5L157.9 558.7L160.2 557.8L162.6 557.0L165.0 556.2L167.3 555.4L169.7 554.7L172.1 554.0L174.6 553.3L177.0 552.8L179.5 552.4L182.0 552.0L184.5 551.8L187.0 551.6L189.5 551.5L192.0 551.4L194.5 551.3L197.0 551.3L199.5 551.2L202.0 551.1L204.5 551.0L207.0 550.8L209.5 550.6L212.0 550.3L214.5 549.8L216.9 549.3L219.3 548.6L221.7 547.7L224.0 546.8L226.2 545.7L228.5 544.5L230.6 543.2L232.7 541.9L234.8 540.4L236.8 538.9L238.7 537.3L240.6 535.7L242.5 534.0L244.3 532.3L246.1 530.5L247.8 528.7L249.5 526.9L251.2 525.0L252.8 523.1L254.3 521.1L255.9 519.1L257.3 517.1L258.8 515.1L260.2 513.0L261.6 510.9L262.9 508.8L264.2 506.6L265.5 504.5L266.8 502.3L268.0 500.1L269.2 497.9L270.4 495.7L271.5 493.5L272.7 491.2L273.8 489.0L274.9 486.7L276.0 484.5L277.0 482.2L278.1 479.9L279.1 477.7L280.2 475.4L281.2 473.1L282.2 470.8L283.3 468.5L284.3 466.2L285.3 464.0L286.4 461.7L287.4 459.4L288.4 457.1L289.4 454.8L290.5 452.5L291.5 450.2L292.5 448.0L293.5 445.7L294.6 443.4L295.6 441.1L296.6 438.8L297.6 436.5L298.6 434.2L299.6 431.9L300.6 429.6L301.6 427.3L302.6 425.0L303.6 422.7L304.6 420.4L305.6 418.1L306.6 415.8L307.5 413.5L308.5 411.2L309.5 408.9L310.4 406.5L311.4 404.2L312.3 401.9L313.3 399.6L314.2 397.2L315.1 394.9L316.1 392.6L317.0 390.3L318.0 388.0L318.9 385.6L319.9 383.3L320.8 381.0L321.8 378.7L322.8 376.4L323.9 374.1L324.9 371.8L326.0 369.6L327.1 367.3L328.2 365.1L329.3 362.9L330.5 360.6L331.7 358.4L333.0 356.3L334.2 354.1L335.5 352.0L336.8 349.8L338.2 347.7L339.5 345.6L340.9 343.5L342.3 341.4L343.7 339.3L345.2 337.3L346.8 335.4L348.5 333.5L350.2 331.7L352.1 330.1L354.1 328.5L356.2 327.2L358.4 326.1L360.8 325.3L363.3 324.8L365.8 324.9L368.2 325.3L370.6 326.0L373.0 327.0L375.3 328.0L377.5 329.0L379.8 330.1L382.1 331.2L384.3 332.2L386.6 333.4L388.8 334.5L391.0 335.7L393.2 337.0L395.3 338.4L397.3 339.8L399.3 341.4L401.2 343.0L403.0 344.7L404.8 346.5L406.5 348.4L408.1 350.3L409.7 352.2L411.2 354.2L412.7 356.2L414.1 358.3L415.5 360.4L416.8 362.5L418.0 364.7L419.3 366.9L420.4 369.1L421.6 371.3L422.6 373.6L423.7 375.9L424.7 378.2L425.7 380.5L426.6 382.8L427.5 385.1L428.4 387.5L429.3 389.8L430.1 392.2L431.0 394.5L431.8 396.9L432.6 399.3L433.3 401.7L434.1 404.1L434.9 406.4L435.7 408.8L436.4 411.2L437.2 413.6L438.0 416.0L438.8 418.4L439.5 420.7L440.4 423.1L441.2 425.5L442.0 427.9L442.8 430.2L443.7 432.6L444.6 434.9L445.4 437.3L446.3 439.6L447.2 442.0L448.1 444.3L449.1 446.6L450.0 448.9L451.0 451.3L451.9 453.6L452.9 455.9L453.9 458.2L454.9 460.5L455.9 462.8L457.0 465.1L458.0 467.3L459.1 469.6L460.2 471.9L461.3 474.1L462.4 476.4L463.5 478.6L464.6 480.8L465.8 483.1L466.9 485.3L468.1 487.5L469.3 489.7L470.5 491.9L471.7 494.1L473.0 496.3L474.3 498.4L475.5 500.6L476.9 502.7L478.2 504.8L479.6 506.9L481.1 509.0L482.5 511.0L484.0 513.0L485.6 515.0L487.2 516.9L488.8 518.8L490.5 520.6L492.2 522.4L494.0 524.2L495.9 525.9L497.7 527.6L499.7 529.2L501.7 530.7L503.7 532.2L505.8 533.6L507.9 534.9L510.1 536.1L512.3 537.2L514.6 538.3L516.9 539.2L519.3 540.0L521.7 540.7L524.2 541.3L526.6 541.7L529.1 542.0L531.6 542.3L534.1 542.6L536.6 542.8L539.1 543.1L541.6 543.5L544.0 543.9L546.5 544.4L549.0 544.9L551.4 545.5L553.8 546.1L556.2 546.8L558.6 547.5L561.0 548.2L563.4 549.0L565.8 549.8L568.2 550.6L570.6 551.4L572.9 552.1L575.3 552.8L577.8 553.5L580.2 554.2L582.6 554.8L585.0 555.5L587.4 556.1L589.9 556.8L592.3 557.4L594.7 558.1L597.1 558.7L599.5 559.4L602.0 560.0L604.4 560.7L606.8 561.3L609.3 561.9L611.7 562.4L614.2 563.0L616.6 563.5L619.1 563.9L621.5 564.4L624.0 564.7L626.5 565.0L629.0 565.3L631.5 565.5L634.0 565.6L636.5 565.6L639.0 565.6L641.5 565.6L644.0 565.6L646.5 565.5L649.0 565.3L651.5 565.2L654.1 565.1L656.6 564.9L659.1 564.8L661.6 564.7L664.1 564.5L666.6 564.5L669.1 564.4L671.6 564.4L674.1 564.4L676.6 564.5L679.1 564.6L681.6 564.8L684.1 565.1L686.6 565.4L689.1 565.7L691.5 566.0L694.0 566.4L696.5 566.7L699.0 567.0L701.5 567.3L704.0 567.5L706.5 567.7L709.0 567.9L711.5 568.1L714.0 568.2L716.5 568.3L719.0 568.4L721.5 568.5L724.0 568.5L726.5 568.6L729.0 568.6L731.5 568.7L734.0 568.7L736.5 568.7L739.1 568.8L741.6 568.8L744.1 568.8L746.6 568.8L749.1 568.8L751.6 568.8L754.1 568.8L756.6 568.8L759.1 568.8L761.6 568.8L764.1 568.8L766.6 568.8L769.1 568.8L771.6 568.8L774.1 568.8L776.7 568.8L779.2 568.8L781.7 568.8L784.2 568.8L786.7 568.8L789.2 568.8L791.7 568.8L794.2 568.8L796.7 568.8L799.2 568.8L801.7 568.8L804.2 568.8L806.7 568.8L809.2 568.8L811.8 568.8L814.3 568.8L816.8 568.8L819.3 568.8L821.8 568.8L824.3 568.8L826.8 568.8L829.3 568.8L831.8 568.8L834.3 568.8L836.8 568.8L839.3 568.8L841.8 568.8L844.3 568.8L846.8 568.8L849.4 568.8L851.9 568.8L854.4 568.8L856.9 568.8L859.4 568.8L861.9 568.7L864.4 568.6L866.9 568.5L869.4 568.3L871.9 568.2L874.4 568.0L876.9 567.8L879.4 567.5L881.9 567.2L884.4 566.9L886.9 566.6L889.3 566.3L891.8 566.0L894.3 565.6L896.8 565.3L899.3 565.0L901.8 564.7L904.3 564.5L906.8 564.3L909.3 564.1L911.8 564.0L914.3 563.9L916.8 563.9L919.3 563.9L921.8 564.0L924.3 564.2L926.8 564.4L929.3 564.6L931.8 564.9L934.3 565.2L936.8 565.5L939.3 565.8L941.7 566.1L944.2 566.5L946.7 566.8L949.2 567.1L951.7 567.4L954.2 567.7L956.7 568.0L959.2 568.2L961.7 568.4L964.2 568.6L966.7 568.7L969.2 568.8L971.7 568.8L974.2 568.8L976.7 568.8L979.2 568.8L981.7 568.8L984.2 568.8L986.7 568.8L989.2 568.8L991.7 568.8L994.2 568.8L996.7 568.8L999.2 568.8L1001.8 568.8L1004.3 568.8L1006.8 568.8L1009.3 568.8L1011.8 568.7L1014.3 568.7L1016.8 568.7L1019.3 568.7L1021.8 568.7L1024.3 568.7L1026.8 568.7L1029.3 568.8L1031.8 568.8L1034.3 568.8L1036.8 568.8L1039.4 568.8L1041.9 568.8L1044.4 568.8L1046.9 568.8L1049.4 568.8L1051.9 568.8L1054.4 568.8L1056.9 568.8L1059.4 568.8L1061.9 568.8L1064.4 568.8L1066.9 568.8L1069.4 568.8L1071.9 568.8L1074.4 568.8L1077.0 568.8L1079.5 568.8L1082.0 568.8L1084.5 568.8L1087.0 568.8L1089.5 568.8L1092.0 568.8 L1092.00 568.84 Z" fill="url(#g)"/><path d="M104.00 568.69 L106.5 568.7L109.0 568.7L111.5 568.6L114.0 568.4L116.5 568.3L119.0 568.1L121.5 567.8L124.0 567.5L126.5 567.1L128.9 566.7L131.4 566.3L133.9 565.8L136.3 565.3L138.8 564.7L141.2 564.1L143.6 563.4L146.0 562.7L148.4 562.0L150.8 561.2L153.2 560.4L155.5 559.5L157.9 558.7L160.2 557.8L162.6 557.0L165.0 556.2L167.3 555.4L169.7 554.7L172.1 554.0L174.6 553.3L177.0 552.8L179.5 552.4L182.0 552.0L184.5 551.8L187.0 551.6L189.5 551.5L192.0 551.4L194.5 551.3L197.0 551.3L199.5 551.2L202.0 551.1L204.5 551.0L207.0 550.8L209.5 550.6L212.0 550.3L214.5 549.8L216.9 549.3L219.3 548.6L221.7 547.7L224.0 546.8L226.2 545.7L228.5 544.5L230.6 543.2L232.7 541.9L234.8 540.4L236.8 538.9L238.7 537.3L240.6 535.7L242.5 534.0L244.3 532.3L246.1 530.5L247.8 528.7L249.5 526.9L251.2 525.0L252.8 523.1L254.3 521.1L255.9 519.1L257.3 517.1L258.8 515.1L260.2 513.0L261.6 510.9L262.9 508.8L264.2 506.6L265.5 504.5L266.8 502.3L268.0 500.1L269.2 497.9L270.4 495.7L271.5 493.5L272.7 491.2L273.8 489.0L274.9 486.7L276.0 484.5L277.0 482.2L278.1 479.9L279.1 477.7L280.2 475.4L281.2 473.1L282.2 470.8L283.3 468.5L284.3 466.2L285.3 464.0L286.4 461.7L287.4 459.4L288.4 457.1L289.4 454.8L290.5 452.5L291.5 450.2L292.5 448.0L293.5 445.7L294.6 443.4L295.6 441.1L296.6 438.8L297.6 436.5L298.6 434.2L299.6 431.9L300.6 429.6L301.6 427.3L302.6 425.0L303.6 422.7L304.6 420.4L305.6 418.1L306.6 415.8L307.5 413.5L308.5 411.2L309.5 408.9L310.4 406.5L311.4 404.2L312.3 401.9L313.3 399.6L314.2 397.2L315.1 394.9L316.1 392.6L317.0 390.3L318.0 388.0L318.9 385.6L319.9 383.3L320.8 381.0L321.8 378.7L322.8 376.4L323.9 374.1L324.9 371.8L326.0 369.6L327.1 367.3L328.2 365.1L329.3 362.9L330.5 360.6L331.7 358.4L333.0 356.3L334.2 354.1L335.5 352.0L336.8 349.8L338.2 347.7L339.5 345.6L340.9 343.5L342.3 341.4L343.7 339.3L345.2 337.3L346.8 335.4L348.5 333.5L350.2 331.7L352.1 330.1L354.1 328.5L356.2 327.2L358.4 326.1L360.8 325.3L363.3 324.8L365.8 324.9L368.2 325.3L370.6 326.0L373.0 327.0L375.3 328.0L377.5 329.0L379.8 330.1L382.1 331.2L384.3 332.2L386.6 333.4L388.8 334.5L391.0 335.7L393.2 337.0L395.3 338.4L397.3 339.8L399.3 341.4L401.2 343.0L403.0 344.7L404.8 346.5L406.5 348.4L408.1 350.3L409.7 352.2L411.2 354.2L412.7 356.2L414.1 358.3L415.5 360.4L416.8 362.5L418.0 364.7L419.3 366.9L420.4 369.1L421.6 371.3L422.6 373.6L423.7 375.9L424.7 378.2L425.7 380.5L426.6 382.8L427.5 385.1L428.4 387.5L429.3 389.8L430.1 392.2L431.0 394.5L431.8 396.9L432.6 399.3L433.3 401.7L434.1 404.1L434.9 406.4L435.7 408.8L436.4 411.2L437.2 413.6L438.0 416.0L438.8 418.4L439.5 420.7L440.4 423.1L441.2 425.5L442.0 427.9L442.8 430.2L443.7 432.6L444.6 434.9L445.4 437.3L446.3 439.6L447.2 442.0L448.1 444.3L449.1 446.6L450.0 448.9L451.0 451.3L451.9 453.6L452.9 455.9L453.9 458.2L454.9 460.5L455.9 462.8L457.0 465.1L458.0 467.3L459.1 469.6L460.2 471.9L461.3 474.1L462.4 476.4L463.5 478.6L464.6 480.8L465.8 483.1L466.9 485.3L468.1 487.5L469.3 489.7L470.5 491.9L471.7 494.1L473.0 496.3L474.3 498.4L475.5 500.6L476.9 502.7L478.2 504.8L479.6 506.9L481.1 509.0L482.5 511.0L484.0 513.0L485.6 515.0L487.2 516.9L488.8 518.8L490.5 520.6L492.2 522.4L494.0 524.2L495.9 525.9L497.7 527.6L499.7 529.2L501.7 530.7L503.7 532.2L505.8 533.6L507.9 534.9L510.1 536.1L512.3 537.2L514.6 538.3L516.9 539.2L519.3 540.0L521.7 540.7L524.2 541.3L526.6 541.7L529.1 542.0L531.6 542.3L534.1 542.6L536.6 542.8L539.1 543.1L541.6 543.5L544.0 543.9L546.5 544.4L549.0 544.9L551.4 545.5L553.8 546.1L556.2 546.8L558.6 547.5L561.0 548.2L563.4 549.0L565.8 549.8L568.2 550.6L570.6 551.4L572.9 552.1L575.3 552.8L577.8 553.5L580.2 554.2L582.6 554.8L585.0 555.5L587.4 556.1L589.9 556.8L592.3 557.4L594.7 558.1L597.1 558.7L599.5 559.4L602.0 560.0L604.4 560.7L606.8 561.3L609.3 561.9L611.7 562.4L614.2 563.0L616.6 563.5L619.1 563.9L621.5 564.4L624.0 564.7L626.5 565.0L629.0 565.3L631.5 565.5L634.0 565.6L636.5 565.6L639.0 565.6L641.5 565.6L644.0 565.6L646.5 565.5L649.0 565.3L651.5 565.2L654.1 565.1L656.6 564.9L659.1 564.8L661.6 564.7L664.1 564.5L666.6 564.5L669.1 564.4L671.6 564.4L674.1 564.4L676.6 564.5L679.1 564.6L681.6 564.8L684.1 565.1L686.6 565.4L689.1 565.7L691.5 566.0L694.0 566.4L696.5 566.7L699.0 567.0L701.5 567.3L704.0 567.5L706.5 567.7L709.0 567.9L711.5 568.1L714.0 568.2L716.5 568.3L719.0 568.4L721.5 568.5L724.0 568.5L726.5 568.6L729.0 568.6L731.5 568.7L734.0 568.7L736.5 568.7L739.1 568.8L741.6 568.8L744.1 568.8L746.6 568.8L749.1 568.8L751.6 568.8L754.1 568.8L756.6 568.8L759.1 568.8L761.6 568.8L764.1 568.8L766.6 568.8L769.1 568.8L771.6 568.8L774.1 568.8L776.7 568.8L779.2 568.8L781.7 568.8L784.2 568.8L786.7 568.8L789.2 568.8L791.7 568.8L794.2 568.8L796.7 568.8L799.2 568.8L801.7 568.8L804.2 568.8L806.7 568.8L809.2 568.8L811.8 568.8L814.3 568.8L816.8 568.8L819.3 568.8L821.8 568.8L824.3 568.8L826.8 568.8L829.3 568.8L831.8 568.8L834.3 568.8L836.8 568.8L839.3 568.8L841.8 568.8L844.3 568.8L846.8 568.8L849.4 568.8L851.9 568.8L854.4 568.8L856.9 568.8L859.4 568.8L861.9 568.7L864.4 568.6L866.9 568.5L869.4 568.3L871.9 568.2L874.4 568.0L876.9 567.8L879.4 567.5L881.9 567.2L884.4 566.9L886.9 566.6L889.3 566.3L891.8 566.0L894.3 565.6L896.8 565.3L899.3 565.0L901.8 564.7L904.3 564.5L906.8 564.3L909.3 564.1L911.8 564.0L914.3 563.9L916.8 563.9L919.3 563.9L921.8 564.0L924.3 564.2L926.8 564.4L929.3 564.6L931.8 564.9L934.3 565.2L936.8 565.5L939.3 565.8L941.7 566.1L944.2 566.5L946.7 566.8L949.2 567.1L951.7 567.4L954.2 567.7L956.7 568.0L959.2 568.2L961.7 568.4L964.2 568.6L966.7 568.7L969.2 568.8L971.7 568.8L974.2 568.8L976.7 568.8L979.2 568.8L981.7 568.8L984.2 568.8L986.7 568.8L989.2 568.8L991.7 568.8L994.2 568.8L996.7 568.8L999.2 568.8L1001.8 568.8L1004.3 568.8L1006.8 568.8L1009.3 568.8L1011.8 568.7L1014.3 568.7L1016.8 568.7L1019.3 568.7L1021.8 568.7L1024.3 568.7L1026.8 568.7L1029.3 568.8L1031.8 568.8L1034.3 568.8L1036.8 568.8L1039.4 568.8L1041.9 568.8L1044.4 568.8L1046.9 568.8L1049.4 568.8L1051.9 568.8L1054.4 568.8L1056.9 568.8L1059.4 568.8L1061.9 568.8L1064.4 568.8L1066.9 568.8L1069.4 568.8L1071.9 568.8L1074.4 568.8L1077.0 568.8L1079.5 568.8L1082.0 568.8L1084.5 568.8L1087.0 568.8L1089.5 568.8L1092.0 568.8" fill="none" stroke="#000" stroke-width="2.8" stroke-linejoin="round" stroke-linecap="round"/><path d="M104.00 659.17 L104.00 659.16 L106.5 658.8L109.0 658.5L111.5 658.1L113.9 657.8L116.4 657.5L118.9 657.2L121.4 656.9L123.9 656.5L126.3 656.1L128.8 655.6L131.3 655.0L133.7 654.4L136.1 653.7L138.5 652.9L140.8 652.1L143.2 651.2L145.5 650.1L147.7 649.0L149.9 647.8L152.1 646.6L154.2 645.2L156.3 643.9L158.4 642.5L160.5 641.1L162.5 639.7L164.6 638.3L166.7 636.9L168.9 635.6L171.1 634.4L173.3 633.2L175.5 632.1L177.8 631.0L180.0 629.9L182.3 628.8L184.6 627.8L186.9 626.8L189.1 625.7L191.4 624.7L193.7 623.7L196.0 622.6L198.3 621.6L200.6 620.6L202.9 619.6L205.2 618.6L207.5 617.5L209.7 616.5L212.0 615.5L214.3 614.5L216.6 613.4L218.9 612.4L221.2 611.4L223.5 610.3L225.7 609.3L228.0 608.2L230.3 607.2L232.6 606.1L234.8 605.0L237.1 603.9L239.3 602.8L241.5 601.6L243.7 600.4L245.9 599.2L248.0 597.9L250.1 596.5L252.2 595.0L254.1 593.4L256.0 591.8L257.7 589.9L259.3 588.0L260.8 586.0L262.1 583.9L263.4 581.7L264.5 579.5L265.7 577.2L266.7 575.0L267.8 572.7L268.9 570.4L270.0 568.2L271.2 566.0L272.4 563.8L273.7 561.6L274.9 559.5L276.2 557.3L277.6 555.2L278.9 553.0L280.2 550.9L281.5 548.8L282.9 546.7L284.2 544.5L285.5 542.4L286.9 540.3L288.2 538.2L289.6 536.1L290.9 534.0L292.3 531.8L293.6 529.7L295.0 527.6L296.4 525.6L297.8 523.5L299.2 521.4L300.6 519.3L302.0 517.2L303.4 515.2L304.8 513.1L306.3 511.0L307.7 509.0L309.1 506.9L310.5 504.8L311.8 502.7L313.2 500.6L314.5 498.4L315.7 496.3L317.0 494.1L318.2 491.9L319.4 489.7L320.5 487.4L321.6 485.2L322.6 482.9L323.7 480.6L324.7 478.3L325.7 476.0L326.6 473.7L327.6 471.4L328.6 469.1L329.5 466.8L330.5 464.5L331.5 462.1L332.5 459.8L333.4 457.5L334.4 455.2L335.4 452.9L336.4 450.6L337.4 448.3L338.4 446.0L339.4 443.7L340.4 441.4L341.3 439.1L342.3 436.8L343.3 434.5L344.2 432.1L345.2 429.8L346.1 427.5L347.1 425.2L348.0 422.8L348.9 420.5L349.8 418.2L350.7 415.8L351.7 413.5L352.7 411.2L353.7 408.9L354.8 406.7L356.0 404.5L357.2 402.3L358.5 400.1L359.9 398.0L361.3 396.0L362.9 394.0L364.6 392.2L366.4 390.5L368.5 389.1L370.9 388.2L373.4 388.0L375.8 388.6L378.0 389.7L380.1 391.2L381.9 392.9L383.5 394.8L385.0 396.8L386.4 398.9L387.8 401.0L389.1 403.2L390.3 405.4L391.4 407.6L392.4 409.9L393.4 412.2L394.4 414.5L395.2 416.9L396.1 419.2L396.9 421.6L397.7 424.0L398.5 426.3L399.3 428.7L400.1 431.1L400.8 433.5L401.6 435.9L402.3 438.3L403.0 440.7L403.7 443.1L404.5 445.5L405.2 447.9L405.9 450.3L406.6 452.7L407.3 455.1L408.0 457.5L408.7 459.9L409.4 462.4L410.1 464.8L410.8 467.2L411.5 469.6L412.2 472.0L412.9 474.4L413.6 476.8L414.4 479.2L415.1 481.6L415.9 484.0L416.7 486.3L417.4 488.7L418.2 491.1L419.1 493.5L419.9 495.8L420.7 498.2L421.6 500.6L422.4 502.9L423.3 505.3L424.2 507.6L425.0 510.0L425.9 512.3L426.8 514.7L427.6 517.0L428.5 519.4L429.3 521.8L430.1 524.1L431.0 526.5L431.8 528.9L432.6 531.2L433.4 533.6L434.2 536.0L435.1 538.3L436.0 540.7L437.0 543.0L438.0 545.3L439.1 547.5L440.2 549.8L441.4 552.0L442.7 554.1L443.9 556.3L445.3 558.4L446.6 560.6L448.0 562.7L449.3 564.7L450.7 566.8L452.2 568.9L453.6 570.9L455.1 573.0L456.6 575.0L458.1 577.0L459.6 579.0L461.2 580.9L462.8 582.9L464.4 584.8L466.0 586.7L467.6 588.6L469.3 590.5L471.0 592.4L472.7 594.2L474.4 596.0L476.1 597.8L477.9 599.6L479.7 601.4L481.5 603.1L483.3 604.8L485.2 606.5L487.0 608.2L488.9 609.8L490.8 611.5L492.8 613.1L494.7 614.6L496.7 616.2L498.7 617.7L500.7 619.2L502.7 620.7L504.8 622.1L506.8 623.6L508.9 625.0L511.0 626.3L513.1 627.7L515.3 629.0L517.4 630.3L519.6 631.5L521.8 632.7L524.0 633.9L526.2 635.1L528.5 636.2L530.7 637.3L533.0 638.3L535.3 639.3L537.6 640.3L539.9 641.2L542.3 642.1L544.6 643.0L547.0 643.8L549.4 644.6L551.8 645.4L554.2 646.1L556.6 646.7L559.0 647.3L561.5 647.9L563.9 648.4L566.4 648.9L568.9 649.3L571.4 649.6L573.8 650.0L576.3 650.3L578.8 650.5L581.3 650.8L583.8 651.0L586.3 651.2L588.8 651.3L591.3 651.5L593.8 651.6L596.3 651.7L598.8 651.8L601.3 651.9L603.8 652.0L606.4 652.1L608.9 652.2L611.4 652.4L613.9 652.5L616.4 652.6L618.9 652.8L621.4 652.9L623.9 653.1L626.4 653.3L628.9 653.5L631.4 653.7L633.9 653.9L636.4 654.1L638.9 654.3L641.4 654.6L643.9 654.8L646.4 655.1L648.9 655.3L651.3 655.6L653.8 655.9L656.3 656.2L658.8 656.5L661.3 656.8L663.8 657.0L666.3 657.3L668.8 657.6L671.3 657.9L673.8 658.1L676.3 658.3L678.8 658.6L681.3 658.7L683.8 658.9L686.3 659.0L688.8 659.1L691.3 659.2L693.8 659.2L696.3 659.2L698.8 659.2L701.3 659.2L703.8 659.1L706.3 659.0L708.8 658.9L711.3 658.8L713.8 658.7L716.3 658.5L718.9 658.4L721.4 658.2L723.9 658.0L726.4 657.8L728.9 657.6L731.3 657.4L733.8 657.1L736.3 656.9L738.8 656.6L741.3 656.3L743.8 656.0L746.3 655.7L748.8 655.4L751.3 655.2L753.8 654.9L756.3 654.6L758.8 654.4L761.3 654.2L763.8 654.1L766.3 653.9L768.8 653.8L771.3 653.8L773.8 653.8L776.3 653.8L778.8 653.9L781.3 654.0L783.8 654.2L786.3 654.4L788.8 654.7L791.3 654.9L793.8 655.2L796.3 655.5L798.8 655.8L801.3 656.1L803.8 656.4L806.2 656.7L808.7 657.0L811.2 657.2L813.7 657.5L816.2 657.7L818.7 657.9L821.2 658.1L823.7 658.3L826.2 658.4L828.7 658.6L831.2 658.7L833.7 658.8L836.2 658.9L838.7 659.0L841.3 659.1L843.8 659.2L846.3 659.2L848.8 659.2L851.3 659.2L853.8 659.2L856.3 659.2L858.8 659.2L861.3 659.2L863.8 659.2L866.3 659.2L868.8 659.2L871.3 659.2L873.8 659.2L876.4 659.2L878.9 659.2L881.4 659.2L883.9 659.2L886.4 659.2L888.9 659.2L891.4 659.2L893.9 659.2L896.4 659.2L898.9 659.2L901.4 659.2L903.9 659.2L906.4 659.2L909.0 659.2L911.5 659.1L914.0 659.1L916.5 659.1L919.0 659.1L921.5 659.1L924.0 659.1L926.5 659.1L929.0 659.1L931.5 659.1L934.0 659.1L936.5 659.1L939.0 659.1L941.6 659.1L944.1 659.1L946.6 659.1L949.1 659.1L951.6 659.1L954.1 659.1L956.6 659.1L959.1 659.1L961.6 659.1L964.1 659.1L966.6 659.1L969.1 659.1L971.6 659.1L974.1 659.1L976.7 659.1L979.2 659.1L981.7 659.1L984.2 659.1L986.7 659.1L989.2 659.1L991.7 659.2L994.2 659.2L996.7 659.2L999.2 659.2L1001.7 659.2L1004.2 659.2L1006.7 659.2L1009.3 659.2L1011.8 659.2L1014.3 659.2L1016.8 659.2L1019.3 659.2L1021.8 659.2L1024.3 659.2L1026.8 659.2L1029.3 659.2L1031.8 659.2L1034.3 659.2L1036.8 659.2L1039.3 659.2L1041.9 659.2L1044.4 659.2L1046.9 659.2L1049.4 659.2L1051.9 659.2L1054.4 659.2L1056.9 659.2L1059.4 659.2L1061.9 659.2L1064.4 659.2L1066.9 659.2L1069.4 659.2L1071.9 659.2L1074.4 659.2L1077.0 659.2L1079.5 659.2L1082.0 659.1L1084.5 659.1L1087.0 659.1L1089.5 659.1L1092.0 659.1 L1092.00 659.17 Z" fill="url(#g)"/><path d="M104.00 659.16 L106.5 658.8L109.0 658.5L111.5 658.1L113.9 657.8L116.4 657.5L118.9 657.2L121.4 656.9L123.9 656.5L126.3 656.1L128.8 655.6L131.3 655.0L133.7 654.4L136.1 653.7L138.5 652.9L140.8 652.1L143.2 651.2L145.5 650.1L147.7 649.0L149.9 647.8L152.1 646.6L154.2 645.2L156.3 643.9L158.4 642.5L160.5 641.1L162.5 639.7L164.6 638.3L166.7 636.9L168.9 635.6L171.1 634.4L173.3 633.2L175.5 632.1L177.8 631.0L180.0 629.9L182.3 628.8L184.6 627.8L186.9 626.8L189.1 625.7L191.4 624.7L193.7 623.7L196.0 622.6L198.3 621.6L200.6 620.6L202.9 619.6L205.2 618.6L207.5 617.5L209.7 616.5L212.0 615.5L214.3 614.5L216.6 613.4L218.9 612.4L221.2 611.4L223.5 610.3L225.7 609.3L228.0 608.2L230.3 607.2L232.6 606.1L234.8 605.0L237.1 603.9L239.3 602.8L241.5 601.6L243.7 600.4L245.9 599.2L248.0 597.9L250.1 596.5L252.2 595.0L254.1 593.4L256.0 591.8L257.7 589.9L259.3 588.0L260.8 586.0L262.1 583.9L263.4 581.7L264.5 579.5L265.7 577.2L266.7 575.0L267.8 572.7L268.9 570.4L270.0 568.2L271.2 566.0L272.4 563.8L273.7 561.6L274.9 559.5L276.2 557.3L277.6 555.2L278.9 553.0L280.2 550.9L281.5 548.8L282.9 546.7L284.2 544.5L285.5 542.4L286.9 540.3L288.2 538.2L289.6 536.1L290.9 534.0L292.3 531.8L293.6 529.7L295.0 527.6L296.4 525.6L297.8 523.5L299.2 521.4L300.6 519.3L302.0 517.2L303.4 515.2L304.8 513.1L306.3 511.0L307.7 509.0L309.1 506.9L310.5 504.8L311.8 502.7L313.2 500.6L314.5 498.4L315.7 496.3L317.0 494.1L318.2 491.9L319.4 489.7L320.5 487.4L321.6 485.2L322.6 482.9L323.7 480.6L324.7 478.3L325.7 476.0L326.6 473.7L327.6 471.4L328.6 469.1L329.5 466.8L330.5 464.5L331.5 462.1L332.5 459.8L333.4 457.5L334.4 455.2L335.4 452.9L336.4 450.6L337.4 448.3L338.4 446.0L339.4 443.7L340.4 441.4L341.3 439.1L342.3 436.8L343.3 434.5L344.2 432.1L345.2 429.8L346.1 427.5L347.1 425.2L348.0 422.8L348.9 420.5L349.8 418.2L350.7 415.8L351.7 413.5L352.7 411.2L353.7 408.9L354.8 406.7L356.0 404.5L357.2 402.3L358.5 400.1L359.9 398.0L361.3 396.0L362.9 394.0L364.6 392.2L366.4 390.5L368.5 389.1L370.9 388.2L373.4 388.0L375.8 388.6L378.0 389.7L380.1 391.2L381.9 392.9L383.5 394.8L385.0 396.8L386.4 398.9L387.8 401.0L389.1 403.2L390.3 405.4L391.4 407.6L392.4 409.9L393.4 412.2L394.4 414.5L395.2 416.9L396.1 419.2L396.9 421.6L397.7 424.0L398.5 426.3L399.3 428.7L400.1 431.1L400.8 433.5L401.6 435.9L402.3 438.3L403.0 440.7L403.7 443.1L404.5 445.5L405.2 447.9L405.9 450.3L406.6 452.7L407.3 455.1L408.0 457.5L408.7 459.9L409.4 462.4L410.1 464.8L410.8 467.2L411.5 469.6L412.2 472.0L412.9 474.4L413.6 476.8L414.4 479.2L415.1 481.6L415.9 484.0L416.7 486.3L417.4 488.7L418.2 491.1L419.1 493.5L419.9 495.8L420.7 498.2L421.6 500.6L422.4 502.9L423.3 505.3L424.2 507.6L425.0 510.0L425.9 512.3L426.8 514.7L427.6 517.0L428.5 519.4L429.3 521.8L430.1 524.1L431.0 526.5L431.8 528.9L432.6 531.2L433.4 533.6L434.2 536.0L435.1 538.3L436.0 540.7L437.0 543.0L438.0 545.3L439.1 547.5L440.2 549.8L441.4 552.0L442.7 554.1L443.9 556.3L445.3 558.4L446.6 560.6L448.0 562.7L449.3 564.7L450.7 566.8L452.2 568.9L453.6 570.9L455.1 573.0L456.6 575.0L458.1 577.0L459.6 579.0L461.2 580.9L462.8 582.9L464.4 584.8L466.0 586.7L467.6 588.6L469.3 590.5L471.0 592.4L472.7 594.2L474.4 596.0L476.1 597.8L477.9 599.6L479.7 601.4L481.5 603.1L483.3 604.8L485.2 606.5L487.0 608.2L488.9 609.8L490.8 611.5L492.8 613.1L494.7 614.6L496.7 616.2L498.7 617.7L500.7 619.2L502.7 620.7L504.8 622.1L506.8 623.6L508.9 625.0L511.0 626.3L513.1 627.7L515.3 629.0L517.4 630.3L519.6 631.5L521.8 632.7L524.0 633.9L526.2 635.1L528.5 636.2L530.7 637.3L533.0 638.3L535.3 639.3L537.6 640.3L539.9 641.2L542.3 642.1L544.6 643.0L547.0 643.8L549.4 644.6L551.8 645.4L554.2 646.1L556.6 646.7L559.0 647.3L561.5 647.9L563.9 648.4L566.4 648.9L568.9 649.3L571.4 649.6L573.8 650.0L576.3 650.3L578.8 650.5L581.3 650.8L583.8 651.0L586.3 651.2L588.8 651.3L591.3 651.5L593.8 651.6L596.3 651.7L598.8 651.8L601.3 651.9L603.8 652.0L606.4 652.1L608.9 652.2L611.4 652.4L613.9 652.5L616.4 652.6L618.9 652.8L621.4 652.9L623.9 653.1L626.4 653.3L628.9 653.5L631.4 653.7L633.9 653.9L636.4 654.1L638.9 654.3L641.4 654.6L643.9 654.8L646.4 655.1L648.9 655.3L651.3 655.6L653.8 655.9L656.3 656.2L658.8 656.5L661.3 656.8L663.8 657.0L666.3 657.3L668.8 657.6L671.3 657.9L673.8 658.1L676.3 658.3L678.8 658.6L681.3 658.7L683.8 658.9L686.3 659.0L688.8 659.1L691.3 659.2L693.8 659.2L696.3 659.2L698.8 659.2L701.3 659.2L703.8 659.1L706.3 659.0L708.8 658.9L711.3 658.8L713.8 658.7L716.3 658.5L718.9 658.4L721.4 658.2L723.9 658.0L726.4 657.8L728.9 657.6L731.3 657.4L733.8 657.1L736.3 656.9L738.8 656.6L741.3 656.3L743.8 656.0L746.3 655.7L748.8 655.4L751.3 655.2L753.8 654.9L756.3 654.6L758.8 654.4L761.3 654.2L763.8 654.1L766.3 653.9L768.8 653.8L771.3 653.8L773.8 653.8L776.3 653.8L778.8 653.9L781.3 654.0L783.8 654.2L786.3 654.4L788.8 654.7L791.3 654.9L793.8 655.2L796.3 655.5L798.8 655.8L801.3 656.1L803.8 656.4L806.2 656.7L808.7 657.0L811.2 657.2L813.7 657.5L816.2 657.7L818.7 657.9L821.2 658.1L823.7 658.3L826.2 658.4L828.7 658.6L831.2 658.7L833.7 658.8L836.2 658.9L838.7 659.0L841.3 659.1L843.8 659.2L846.3 659.2L848.8 659.2L851.3 659.2L853.8 659.2L856.3 659.2L858.8 659.2L861.3 659.2L863.8 659.2L866.3 659.2L868.8 659.2L871.3 659.2L873.8 659.2L876.4 659.2L878.9 659.2L881.4 659.2L883.9 659.2L886.4 659.2L888.9 659.2L891.4 659.2L893.9 659.2L896.4 659.2L898.9 659.2L901.4 659.2L903.9 659.2L906.4 659.2L909.0 659.2L911.5 659.1L914.0 659.1L916.5 659.1L919.0 659.1L921.5 659.1L924.0 659.1L926.5 659.1L929.0 659.1L931.5 659.1L934.0 659.1L936.5 659.1L939.0 659.1L941.6 659.1L944.1 659.1L946.6 659.1L949.1 659.1L951.6 659.1L954.1 659.1L956.6 659.1L959.1 659.1L961.6 659.1L964.1 659.1L966.6 659.1L969.1 659.1L971.6 659.1L974.1 659.1L976.7 659.1L979.2 659.1L981.7 659.1L984.2 659.1L986.7 659.1L989.2 659.1L991.7 659.2L994.2 659.2L996.7 659.2L999.2 659.2L1001.7 659.2L1004.2 659.2L1006.7 659.2L1009.3 659.2L1011.8 659.2L1014.3 659.2L1016.8 659.2L1019.3 659.2L1021.8 659.2L1024.3 659.2L1026.8 659.2L1029.3 659.2L1031.8 659.2L1034.3 659.2L1036.8 659.2L1039.3 659.2L1041.9 659.2L1044.4 659.2L1046.9 659.2L1049.4 659.2L1051.9 659.2L1054.4 659.2L1056.9 659.2L1059.4 659.2L1061.9 659.2L1064.4 659.2L1066.9 659.2L1069.4 659.2L1071.9 659.2L1074.4 659.2L1077.0 659.2L1079.5 659.2L1082.0 659.1L1084.5 659.1L1087.0 659.1L1089.5 659.1L1092.0 659.1" fill="none" stroke="#000" stroke-width="2.8" stroke-linejoin="round" stroke-linecap="round"/><path d="M104.00 749.50 L104.00 749.37 L106.5 749.4L109.0 749.3L111.5 749.1L114.0 748.9L116.5 748.5L118.9 748.1L121.4 747.6L123.8 747.0L126.2 746.2L128.6 745.4L130.9 744.4L133.1 743.3L135.4 742.1L137.5 740.8L139.6 739.4L141.5 737.8L143.5 736.2L145.3 734.5L147.0 732.7L148.6 730.8L150.2 728.8L151.6 726.8L153.0 724.7L154.3 722.5L155.5 720.3L156.7 718.1L157.9 715.9L159.0 713.6L160.1 711.4L161.1 709.1L162.2 706.8L163.2 704.5L164.1 702.2L165.1 699.9L166.0 697.5L166.9 695.2L167.7 692.8L168.6 690.5L169.4 688.1L170.2 685.7L170.9 683.3L171.7 680.9L172.4 678.5L173.1 676.1L173.8 673.7L174.5 671.3L175.2 668.9L175.8 666.5L176.5 664.1L177.1 661.6L177.8 659.2L178.4 656.8L179.0 654.3L179.6 651.9L180.2 649.5L180.8 647.0L181.4 644.6L181.9 642.2L182.5 639.7L183.1 637.3L183.7 634.8L184.3 632.4L184.9 630.0L185.5 627.5L186.1 625.1L186.7 622.7L187.4 620.2L188.0 617.8L188.7 615.4L189.4 613.0L190.1 610.6L190.8 608.2L191.6 605.8L192.4 603.4L193.2 601.0L194.0 598.7L194.9 596.3L195.8 594.0L196.7 591.6L197.6 589.3L198.6 587.0L199.5 584.7L200.5 582.3L201.4 580.0L202.3 577.7L203.3 575.4L204.2 573.0L205.1 570.7L206.0 568.3L207.0 566.0L208.0 563.8L209.2 561.6L210.6 559.5L212.2 557.6L214.2 556.0L216.4 554.9L218.9 554.4L221.4 554.6L223.7 555.4L226.0 556.5L228.0 558.0L229.9 559.6L231.6 561.5L233.2 563.4L234.6 565.5L236.0 567.6L237.2 569.8L238.4 572.0L239.6 574.2L240.8 576.4L241.9 578.6L243.2 580.8L244.4 583.0L245.8 585.1L247.2 587.1L248.8 589.1L250.4 591.0L252.1 592.9L253.8 594.7L255.6 596.4L257.5 598.1L259.5 599.6L261.5 601.2L263.5 602.6L265.6 604.0L267.8 605.2L270.0 606.4L272.3 607.4L274.8 608.0L277.2 608.2L279.7 607.8L282.1 607.1L284.5 606.2L286.8 605.2L289.0 604.1L291.2 602.9L293.4 601.7L295.6 600.5L297.8 599.3L299.9 597.9L302.0 596.6L304.1 595.1L306.1 593.7L308.2 592.2L310.2 590.8L312.3 589.4L314.5 588.1L316.7 586.9L319.0 585.9L321.3 584.9L323.6 584.0L326.0 583.2L328.4 582.4L330.8 581.9L333.3 581.8L335.8 582.1L338.3 582.8L340.6 583.5L343.0 584.4L345.3 585.4L347.5 586.6L349.7 587.9L351.7 589.3L353.7 590.9L355.6 592.5L357.4 594.2L359.2 595.9L361.1 597.7L362.9 599.4L364.7 601.2L366.5 602.9L368.3 604.7L370.0 606.4L371.8 608.2L373.6 610.0L375.4 611.7L377.1 613.5L378.9 615.3L380.6 617.1L382.3 619.0L384.0 620.8L385.7 622.6L387.4 624.5L389.1 626.4L390.8 628.2L392.4 630.1L394.0 632.1L395.6 634.0L397.2 635.9L398.7 637.9L400.3 639.9L401.8 641.9L403.3 643.9L404.7 646.0L406.2 648.0L407.6 650.1L408.9 652.2L410.3 654.3L411.6 656.5L412.9 658.6L414.1 660.8L415.3 663.0L416.5 665.2L417.7 667.4L418.9 669.6L420.1 671.8L421.3 674.0L422.6 676.2L423.8 678.4L425.1 680.5L426.4 682.7L427.7 684.8L429.1 686.9L430.6 688.9L432.1 690.9L433.7 692.8L435.3 694.7L437.0 696.6L438.8 698.4L440.5 700.2L442.3 701.9L444.2 703.6L446.0 705.3L448.0 706.9L449.9 708.5L451.8 710.1L453.8 711.6L455.8 713.1L457.9 714.6L459.9 716.0L462.0 717.4L464.2 718.7L466.3 720.0L468.5 721.2L470.7 722.4L473.0 723.5L475.3 724.5L477.6 725.5L479.9 726.3L482.3 727.1L484.7 727.8L487.2 728.4L489.6 728.9L492.1 729.3L494.6 729.6L497.1 729.8L499.6 730.0L502.1 730.2L504.6 730.3L507.1 730.4L509.6 730.4L512.1 730.5L514.6 730.5L517.2 730.6L519.7 730.7L522.2 730.8L524.7 730.9L527.2 731.1L529.7 731.2L532.2 731.4L534.7 731.6L537.2 731.8L539.7 732.0L542.2 732.2L544.7 732.3L547.2 732.5L549.7 732.6L552.2 732.7L554.7 732.8L557.2 732.9L559.7 732.9L562.2 732.8L564.7 732.8L567.2 732.7L569.7 732.6L572.3 732.6L574.8 732.5L577.3 732.4L579.8 732.4L582.3 732.4L584.8 732.4L587.3 732.5L589.8 732.7L592.3 732.9L594.8 733.1L597.3 733.5L599.8 733.8L602.2 734.3L604.7 734.7L607.2 735.2L609.6 735.7L612.1 736.3L614.5 736.8L617.0 737.4L619.4 737.9L621.8 738.5L624.3 739.1L626.7 739.6L629.2 740.1L631.6 740.7L634.1 741.2L636.6 741.7L639.0 742.1L641.5 742.6L644.0 743.0L646.4 743.5L648.9 743.9L651.4 744.3L653.9 744.7L656.3 745.1L658.8 745.4L661.3 745.8L663.8 746.1L666.3 746.4L668.8 746.7L671.3 747.0L673.8 747.2L676.3 747.5L678.8 747.7L681.3 747.9L683.8 748.1L686.3 748.3L688.8 748.5L691.3 748.6L693.8 748.8L696.3 748.9L698.8 749.0L701.3 749.2L703.8 749.2L706.3 749.3L708.8 749.4L711.3 749.5L713.8 749.5L716.3 749.5L718.8 749.5L721.3 749.5L723.8 749.5L726.4 749.5L728.9 749.5L731.4 749.5L733.9 749.5L736.4 749.4L738.9 749.4L741.4 749.3L743.9 749.2L746.4 749.1L748.9 749.0L751.4 748.9L753.9 748.8L756.4 748.7L758.9 748.5L761.4 748.4L764.0 748.2L766.5 748.1L769.0 747.9L771.5 747.7L774.0 747.6L776.5 747.4L779.0 747.2L781.5 747.0L784.0 746.7L786.5 746.5L789.0 746.3L791.5 746.0L793.9 745.8L796.4 745.5L798.9 745.2L801.4 744.8L803.9 744.5L806.4 744.2L808.9 743.9L811.4 743.8L813.9 743.9L816.4 744.1L818.9 744.4L821.4 744.8L823.8 745.1L826.3 745.5L828.8 745.8L831.3 746.2L833.8 746.5L836.3 746.8L838.8 747.1L841.3 747.4L843.8 747.6L846.2 747.9L848.7 748.1L851.2 748.3L853.7 748.5L856.2 748.7L858.8 748.9L861.3 749.0L863.8 749.1L866.3 749.3L868.8 749.4L871.3 749.4L873.8 749.5L876.3 749.5L878.8 749.5L881.3 749.5L883.8 749.5L886.3 749.5L888.8 749.5L891.3 749.5L893.9 749.5L896.4 749.5L898.9 749.5L901.4 749.5L903.9 749.5L906.4 749.5L908.9 749.5L911.4 749.5L913.9 749.5L916.4 749.5L918.9 749.5L921.4 749.5L923.9 749.5L926.5 749.5L929.0 749.5L931.5 749.5L934.0 749.5L936.5 749.5L939.0 749.5L941.5 749.5L944.0 749.4L946.5 749.4L949.0 749.4L951.5 749.4L954.0 749.4L956.6 749.4L959.1 749.4L961.6 749.4L964.1 749.4L966.6 749.4L969.1 749.4L971.6 749.4L974.1 749.4L976.6 749.4L979.1 749.4L981.6 749.5L984.1 749.5L986.7 749.5L989.2 749.5L991.7 749.5L994.2 749.5L996.7 749.5L999.2 749.5L1001.7 749.5L1004.2 749.5L1006.7 749.5L1009.2 749.5L1011.7 749.5L1014.2 749.5L1016.8 749.5L1019.3 749.5L1021.8 749.5L1024.3 749.5L1026.8 749.5L1029.3 749.5L1031.8 749.5L1034.3 749.5L1036.8 749.5L1039.3 749.5L1041.8 749.5L1044.3 749.5L1046.9 749.5L1049.4 749.5L1051.9 749.5L1054.4 749.5L1056.9 749.5L1059.4 749.5L1061.9 749.5L1064.4 749.5L1066.9 749.5L1069.4 749.5L1071.9 749.5L1074.4 749.5L1077.0 749.5L1079.5 749.5L1082.0 749.5L1084.5 749.5L1087.0 749.5L1089.5 749.5L1092.0 749.4 L1092.00 749.50 Z" fill="url(#g)"/><path d="M104.00 749.37 L106.5 749.4L109.0 749.3L111.5 749.1L114.0 748.9L116.5 748.5L118.9 748.1L121.4 747.6L123.8 747.0L126.2 746.2L128.6 745.4L130.9 744.4L133.1 743.3L135.4 742.1L137.5 740.8L139.6 739.4L141.5 737.8L143.5 736.2L145.3 734.5L147.0 732.7L148.6 730.8L150.2 728.8L151.6 726.8L153.0 724.7L154.3 722.5L155.5 720.3L156.7 718.1L157.9 715.9L159.0 713.6L160.1 711.4L161.1 709.1L162.2 706.8L163.2 704.5L164.1 702.2L165.1 699.9L166.0 697.5L166.9 695.2L167.7 692.8L168.6 690.5L169.4 688.1L170.2 685.7L170.9 683.3L171.7 680.9L172.4 678.5L173.1 676.1L173.8 673.7L174.5 671.3L175.2 668.9L175.8 666.5L176.5 664.1L177.1 661.6L177.8 659.2L178.4 656.8L179.0 654.3L179.6 651.9L180.2 649.5L180.8 647.0L181.4 644.6L181.9 642.2L182.5 639.7L183.1 637.3L183.7 634.8L184.3 632.4L184.9 630.0L185.5 627.5L186.1 625.1L186.7 622.7L187.4 620.2L188.0 617.8L188.7 615.4L189.4 613.0L190.1 610.6L190.8 608.2L191.6 605.8L192.4 603.4L193.2 601.0L194.0 598.7L194.9 596.3L195.8 594.0L196.7 591.6L197.6 589.3L198.6 587.0L199.5 584.7L200.5 582.3L201.4 580.0L202.3 577.7L203.3 575.4L204.2 573.0L205.1 570.7L206.0 568.3L207.0 566.0L208.0 563.8L209.2 561.6L210.6 559.5L212.2 557.6L214.2 556.0L216.4 554.9L218.9 554.4L221.4 554.6L223.7 555.4L226.0 556.5L228.0 558.0L229.9 559.6L231.6 561.5L233.2 563.4L234.6 565.5L236.0 567.6L237.2 569.8L238.4 572.0L239.6 574.2L240.8 576.4L241.9 578.6L243.2 580.8L244.4 583.0L245.8 585.1L247.2 587.1L248.8 589.1L250.4 591.0L252.1 592.9L253.8 594.7L255.6 596.4L257.5 598.1L259.5 599.6L261.5 601.2L263.5 602.6L265.6 604.0L267.8 605.2L270.0 606.4L272.3 607.4L274.8 608.0L277.2 608.2L279.7 607.8L282.1 607.1L284.5 606.2L286.8 605.2L289.0 604.1L291.2 602.9L293.4 601.7L295.6 600.5L297.8 599.3L299.9 597.9L302.0 596.6L304.1 595.1L306.1 593.7L308.2 592.2L310.2 590.8L312.3 589.4L314.5 588.1L316.7 586.9L319.0 585.9L321.3 584.9L323.6 584.0L326.0 583.2L328.4 582.4L330.8 581.9L333.3 581.8L335.8 582.1L338.3 582.8L340.6 583.5L343.0 584.4L345.3 585.4L347.5 586.6L349.7 587.9L351.7 589.3L353.7 590.9L355.6 592.5L357.4 594.2L359.2 595.9L361.1 597.7L362.9 599.4L364.7 601.2L366.5 602.9L368.3 604.7L370.0 606.4L371.8 608.2L373.6 610.0L375.4 611.7L377.1 613.5L378.9 615.3L380.6 617.1L382.3 619.0L384.0 620.8L385.7 622.6L387.4 624.5L389.1 626.4L390.8 628.2L392.4 630.1L394.0 632.1L395.6 634.0L397.2 635.9L398.7 637.9L400.3 639.9L401.8 641.9L403.3 643.9L404.7 646.0L406.2 648.0L407.6 650.1L408.9 652.2L410.3 654.3L411.6 656.5L412.9 658.6L414.1 660.8L415.3 663.0L416.5 665.2L417.7 667.4L418.9 669.6L420.1 671.8L421.3 674.0L422.6 676.2L423.8 678.4L425.1 680.5L426.4 682.7L427.7 684.8L429.1 686.9L430.6 688.9L432.1 690.9L433.7 692.8L435.3 694.7L437.0 696.6L438.8 698.4L440.5 700.2L442.3 701.9L444.2 703.6L446.0 705.3L448.0 706.9L449.9 708.5L451.8 710.1L453.8 711.6L455.8 713.1L457.9 714.6L459.9 716.0L462.0 717.4L464.2 718.7L466.3 720.0L468.5 721.2L470.7 722.4L473.0 723.5L475.3 724.5L477.6 725.5L479.9 726.3L482.3 727.1L484.7 727.8L487.2 728.4L489.6 728.9L492.1 729.3L494.6 729.6L497.1 729.8L499.6 730.0L502.1 730.2L504.6 730.3L507.1 730.4L509.6 730.4L512.1 730.5L514.6 730.5L517.2 730.6L519.7 730.7L522.2 730.8L524.7 730.9L527.2 731.1L529.7 731.2L532.2 731.4L534.7 731.6L537.2 731.8L539.7 732.0L542.2 732.2L544.7 732.3L547.2 732.5L549.7 732.6L552.2 732.7L554.7 732.8L557.2 732.9L559.7 732.9L562.2 732.8L564.7 732.8L567.2 732.7L569.7 732.6L572.3 732.6L574.8 732.5L577.3 732.4L579.8 732.4L582.3 732.4L584.8 732.4L587.3 732.5L589.8 732.7L592.3 732.9L594.8 733.1L597.3 733.5L599.8 733.8L602.2 734.3L604.7 734.7L607.2 735.2L609.6 735.7L612.1 736.3L614.5 736.8L617.0 737.4L619.4 737.9L621.8 738.5L624.3 739.1L626.7 739.6L629.2 740.1L631.6 740.7L634.1 741.2L636.6 741.7L639.0 742.1L641.5 742.6L644.0 743.0L646.4 743.5L648.9 743.9L651.4 744.3L653.9 744.7L656.3 745.1L658.8 745.4L661.3 745.8L663.8 746.1L666.3 746.4L668.8 746.7L671.3 747.0L673.8 747.2L676.3 747.5L678.8 747.7L681.3 747.9L683.8 748.1L686.3 748.3L688.8 748.5L691.3 748.6L693.8 748.8L696.3 748.9L698.8 749.0L701.3 749.2L703.8 749.2L706.3 749.3L708.8 749.4L711.3 749.5L713.8 749.5L716.3 749.5L718.8 749.5L721.3 749.5L723.8 749.5L726.4 749.5L728.9 749.5L731.4 749.5L733.9 749.5L736.4 749.4L738.9 749.4L741.4 749.3L743.9 749.2L746.4 749.1L748.9 749.0L751.4 748.9L753.9 748.8L756.4 748.7L758.9 748.5L761.4 748.4L764.0 748.2L766.5 748.1L769.0 747.9L771.5 747.7L774.0 747.6L776.5 747.4L779.0 747.2L781.5 747.0L784.0 746.7L786.5 746.5L789.0 746.3L791.5 746.0L793.9 745.8L796.4 745.5L798.9 745.2L801.4 744.8L803.9 744.5L806.4 744.2L808.9 743.9L811.4 743.8L813.9 743.9L816.4 744.1L818.9 744.4L821.4 744.8L823.8 745.1L826.3 745.5L828.8 745.8L831.3 746.2L833.8 746.5L836.3 746.8L838.8 747.1L841.3 747.4L843.8 747.6L846.2 747.9L848.7 748.1L851.2 748.3L853.7 748.5L856.2 748.7L858.8 748.9L861.3 749.0L863.8 749.1L866.3 749.3L868.8 749.4L871.3 749.4L873.8 749.5L876.3 749.5L878.8 749.5L881.3 749.5L883.8 749.5L886.3 749.5L888.8 749.5L891.3 749.5L893.9 749.5L896.4 749.5L898.9 749.5L901.4 749.5L903.9 749.5L906.4 749.5L908.9 749.5L911.4 749.5L913.9 749.5L916.4 749.5L918.9 749.5L921.4 749.5L923.9 749.5L926.5 749.5L929.0 749.5L931.5 749.5L934.0 749.5L936.5 749.5L939.0 749.5L941.5 749.5L944.0 749.4L946.5 749.4L949.0 749.4L951.5 749.4L954.0 749.4L956.6 749.4L959.1 749.4L961.6 749.4L964.1 749.4L966.6 749.4L969.1 749.4L971.6 749.4L974.1 749.4L976.6 749.4L979.1 749.4L981.6 749.5L984.1 749.5L986.7 749.5L989.2 749.5L991.7 749.5L994.2 749.5L996.7 749.5L999.2 749.5L1001.7 749.5L1004.2 749.5L1006.7 749.5L1009.2 749.5L1011.7 749.5L1014.2 749.5L1016.8 749.5L1019.3 749.5L1021.8 749.5L1024.3 749.5L1026.8 749.5L1029.3 749.5L1031.8 749.5L1034.3 749.5L1036.8 749.5L1039.3 749.5L1041.8 749.5L1044.3 749.5L1046.9 749.5L1049.4 749.5L1051.9 749.5L1054.4 749.5L1056.9 749.5L1059.4 749.5L1061.9 749.5L1064.4 749.5L1066.9 749.5L1069.4 749.5L1071.9 749.5L1074.4 749.5L1077.0 749.5L1079.5 749.5L1082.0 749.5L1084.5 749.5L1087.0 749.5L1089.5 749.5L1092.0 749.4" fill="none" stroke="#000" stroke-width="2.8" stroke-linejoin="round" stroke-linecap="round"/><path d="M104.03 839.83 L104.03 839.70 L106.5 839.8L109.0 839.8L111.6 839.8L114.1 839.8L116.6 839.7L119.1 839.4L121.5 839.1L124.0 838.6L126.5 838.1L128.9 837.5L131.3 836.8L133.7 836.1L136.1 835.2L138.4 834.2L140.6 833.1L142.8 831.9L145.0 830.6L147.1 829.2L149.1 827.7L151.0 826.1L152.8 824.3L154.5 822.5L156.2 820.7L157.8 818.7L159.3 816.7L160.8 814.7L162.2 812.6L163.6 810.5L164.9 808.4L166.2 806.2L167.5 804.1L168.7 801.9L169.8 799.6L170.9 797.4L172.0 795.1L173.0 792.8L173.9 790.5L174.8 788.1L175.7 785.8L176.5 783.4L177.3 781.0L178.0 778.6L178.7 776.2L179.4 773.8L180.1 771.4L180.8 769.0L181.5 766.6L182.1 764.1L182.8 761.7L183.5 759.3L184.1 756.9L184.8 754.5L185.5 752.1L186.2 749.7L186.9 747.2L187.6 744.8L188.3 742.4L189.0 740.0L189.7 737.6L190.4 735.2L191.1 732.8L191.8 730.4L192.5 728.0L193.2 725.5L193.8 723.1L194.5 720.7L195.1 718.3L195.7 715.8L196.3 713.4L196.9 711.0L197.5 708.5L198.1 706.1L198.7 703.6L199.3 701.2L199.8 698.8L200.4 696.3L201.0 693.9L201.5 691.4L202.1 689.0L202.7 686.5L203.2 684.1L203.8 681.6L204.4 679.2L204.9 676.8L205.5 674.3L206.1 671.9L206.7 669.4L207.3 667.0L207.9 664.6L208.6 662.1L209.2 659.7L209.9 657.3L210.5 654.9L211.2 652.5L211.9 650.1L212.6 647.7L213.4 645.3L214.1 642.9L214.9 640.5L215.7 638.1L216.5 635.7L217.4 633.4L218.3 631.0L219.2 628.7L220.1 626.3L221.0 624.0L222.0 621.7L223.0 619.4L224.0 617.1L225.0 614.8L226.1 612.5L227.1 610.3L228.2 608.0L229.4 605.8L230.6 603.6L231.9 601.4L233.2 599.3L234.7 597.3L236.3 595.4L238.2 593.6L240.2 592.2L242.4 591.0L244.8 590.1L247.2 589.6L249.7 589.3L252.2 589.4L254.7 589.9L257.0 590.7L259.3 591.8L261.4 593.2L263.4 594.7L265.2 596.4L266.9 598.2L268.6 600.1L270.2 602.0L271.8 604.0L273.4 605.9L274.9 607.9L276.5 609.9L278.0 611.9L279.4 614.0L280.8 616.0L282.2 618.1L283.5 620.3L284.8 622.4L286.0 624.6L287.3 626.8L288.5 629.0L289.7 631.2L290.8 633.4L292.0 635.6L293.2 637.9L294.4 640.1L295.5 642.3L296.7 644.5L297.9 646.7L299.2 648.9L300.5 651.0L301.8 653.2L303.1 655.3L304.5 657.4L305.9 659.5L307.3 661.6L308.7 663.6L310.2 665.7L311.7 667.7L313.2 669.7L314.7 671.7L316.2 673.7L317.8 675.6L319.3 677.6L320.9 679.6L322.5 681.5L324.1 683.4L325.7 685.4L327.3 687.3L328.9 689.2L330.6 691.1L332.2 693.0L333.8 694.9L335.5 696.8L337.1 698.7L338.7 700.6L340.4 702.5L342.0 704.4L343.7 706.3L345.4 708.2L347.0 710.1L348.7 711.9L350.3 713.8L352.0 715.7L353.7 717.6L355.3 719.4L357.0 721.3L358.7 723.2L360.4 725.1L362.0 726.9L363.7 728.8L365.4 730.7L367.1 732.5L368.7 734.4L370.4 736.3L372.1 738.1L373.8 740.0L375.5 741.8L377.2 743.7L378.9 745.5L380.6 747.4L382.3 749.2L384.0 751.1L385.7 752.9L387.4 754.7L389.1 756.6L390.9 758.4L392.6 760.2L394.3 762.0L396.1 763.8L397.8 765.6L399.6 767.4L401.3 769.2L403.1 771.0L404.9 772.8L406.6 774.5L408.4 776.3L410.2 778.1L412.0 779.8L413.8 781.6L415.6 783.3L417.4 785.0L419.3 786.7L421.2 788.4L423.0 790.0L425.0 791.7L426.9 793.2L428.9 794.8L431.0 796.2L433.0 797.6L435.1 799.0L437.3 800.3L439.5 801.4L441.8 802.5L444.1 803.6L446.4 804.5L448.7 805.4L451.1 806.3L453.5 807.0L455.9 807.8L458.3 808.5L460.7 809.2L463.1 809.9L465.5 810.6L467.9 811.3L470.3 812.0L472.7 812.7L475.1 813.5L477.5 814.2L479.9 815.0L482.3 815.8L484.7 816.6L487.0 817.4L489.4 818.3L491.8 819.1L494.1 820.0L496.5 820.8L498.8 821.7L501.2 822.5L503.6 823.2L506.0 823.9L508.5 824.5L510.9 825.1L513.4 825.6L515.8 826.0L518.3 826.4L520.8 826.7L523.3 827.0L525.8 827.3L528.3 827.5L530.8 827.7L533.3 827.9L535.8 828.0L538.3 828.2L540.8 828.3L543.3 828.5L545.8 828.6L548.3 828.8L550.8 829.0L553.3 829.2L555.8 829.4L558.3 829.6L560.8 829.8L563.3 830.0L565.8 830.3L568.3 830.5L570.8 830.8L573.3 831.1L575.8 831.4L578.3 831.7L580.8 832.1L583.3 832.4L585.7 832.8L588.2 833.2L590.7 833.5L593.2 833.9L595.7 834.3L598.1 834.7L600.6 835.0L603.1 835.4L605.6 835.8L608.1 836.1L610.6 836.4L613.1 836.7L615.6 837.0L618.1 837.2L620.6 837.4L623.1 837.5L625.6 837.6L628.1 837.5L630.6 837.4L633.1 837.3L635.6 837.1L638.1 836.9L640.6 836.6L643.1 836.3L645.6 836.1L648.1 835.8L650.6 835.5L653.1 835.3L655.6 835.1L658.1 834.9L660.6 834.8L663.1 834.7L665.6 834.7L668.1 834.7L670.6 834.7L673.1 834.8L675.6 834.9L678.1 835.0L680.6 835.2L683.1 835.3L685.7 835.4L688.2 835.6L690.7 835.7L693.2 835.8L695.7 835.9L698.2 836.0L700.7 836.1L703.2 836.2L705.7 836.3L708.2 836.4L710.7 836.5L713.2 836.6L715.7 836.7L718.2 836.8L720.8 836.9L723.3 837.0L725.8 837.0L728.3 837.1L730.8 837.2L733.3 837.3L735.8 837.3L738.3 837.4L740.8 837.4L743.3 837.5L745.8 837.5L748.3 837.6L750.9 837.6L753.4 837.7L755.9 837.7L758.4 837.7L760.9 837.7L763.4 837.8L765.9 837.8L768.4 837.7L770.9 837.7L773.4 837.6L775.9 837.5L778.5 837.3L781.0 837.2L783.5 837.0L786.0 836.9L788.5 836.7L791.0 836.6L793.5 836.6L796.0 836.5L798.5 836.6L801.0 836.7L803.5 836.8L806.0 836.9L808.5 837.1L811.0 837.2L813.5 837.4L816.0 837.6L818.5 837.8L821.0 838.0L823.5 838.2L826.0 838.4L828.5 838.6L831.0 838.7L833.6 838.9L836.1 839.0L838.6 839.2L841.1 839.3L843.6 839.4L846.1 839.5L848.6 839.6L851.1 839.6L853.6 839.7L856.1 839.8L858.6 839.8L861.1 839.8L863.6 839.8L866.2 839.8L868.7 839.8L871.2 839.8L873.7 839.8L876.2 839.8L878.7 839.8L881.2 839.8L883.7 839.8L886.2 839.8L888.7 839.8L891.3 839.8L893.8 839.8L896.3 839.8L898.8 839.8L901.3 839.8L903.8 839.8L906.3 839.8L908.8 839.8L911.3 839.8L913.8 839.8L916.3 839.8L918.9 839.8L921.4 839.8L923.9 839.8L926.4 839.8L928.9 839.8L931.4 839.8L933.9 839.8L936.4 839.8L938.9 839.8L941.4 839.8L943.9 839.8L946.5 839.8L949.0 839.8L951.5 839.8L954.0 839.8L956.5 839.8L959.0 839.8L961.5 839.8L964.0 839.8L966.5 839.8L969.0 839.8L971.6 839.8L974.1 839.8L976.6 839.8L979.1 839.8L981.6 839.8L984.1 839.8L986.6 839.8L989.1 839.8L991.6 839.8L994.1 839.8L996.6 839.8L999.2 839.8L1001.7 839.8L1004.2 839.8L1006.7 839.8L1009.2 839.8L1011.7 839.8L1014.2 839.8L1016.7 839.8L1019.2 839.8L1021.7 839.8L1024.2 839.8L1026.8 839.8L1029.3 839.8L1031.8 839.8L1034.3 839.8L1036.8 839.8L1039.3 839.8L1041.8 839.8L1044.3 839.8L1046.8 839.8L1049.3 839.8L1051.9 839.8L1054.4 839.8L1056.9 839.8L1059.4 839.8L1061.9 839.8L1064.4 839.8L1066.9 839.8L1069.4 839.8L1071.9 839.8L1074.4 839.8L1076.9 839.8L1079.5 839.8L1082.0 839.8L1084.5 839.8L1087.0 839.8L1089.5 839.8L1092.0 839.8 L1092.00 839.83 Z" fill="url(#g)"/><path d="M104.03 839.70 L106.5 839.8L109.0 839.8L111.6 839.8L114.1 839.8L116.6 839.7L119.1 839.4L121.5 839.1L124.0 838.6L126.5 838.1L128.9 837.5L131.3 836.8L133.7 836.1L136.1 835.2L138.4 834.2L140.6 833.1L142.8 831.9L145.0 830.6L147.1 829.2L149.1 827.7L151.0 826.1L152.8 824.3L154.5 822.5L156.2 820.7L157.8 818.7L159.3 816.7L160.8 814.7L162.2 812.6L163.6 810.5L164.9 808.4L166.2 806.2L167.5 804.1L168.7 801.9L169.8 799.6L170.9 797.4L172.0 795.1L173.0 792.8L173.9 790.5L174.8 788.1L175.7 785.8L176.5 783.4L177.3 781.0L178.0 778.6L178.7 776.2L179.4 773.8L180.1 771.4L180.8 769.0L181.5 766.6L182.1 764.1L182.8 761.7L183.5 759.3L184.1 756.9L184.8 754.5L185.5 752.1L186.2 749.7L186.9 747.2L187.6 744.8L188.3 742.4L189.0 740.0L189.7 737.6L190.4 735.2L191.1 732.8L191.8 730.4L192.5 728.0L193.2 725.5L193.8 723.1L194.5 720.7L195.1 718.3L195.7 715.8L196.3 713.4L196.9 711.0L197.5 708.5L198.1 706.1L198.7 703.6L199.3 701.2L199.8 698.8L200.4 696.3L201.0 693.9L201.5 691.4L202.1 689.0L202.7 686.5L203.2 684.1L203.8 681.6L204.4 679.2L204.9 676.8L205.5 674.3L206.1 671.9L206.7 669.4L207.3 667.0L207.9 664.6L208.6 662.1L209.2 659.7L209.9 657.3L210.5 654.9L211.2 652.5L211.9 650.1L212.6 647.7L213.4 645.3L214.1 642.9L214.9 640.5L215.7 638.1L216.5 635.7L217.4 633.4L218.3 631.0L219.2 628.7L220.1 626.3L221.0 624.0L222.0 621.7L223.0 619.4L224.0 617.1L225.0 614.8L226.1 612.5L227.1 610.3L228.2 608.0L229.4 605.8L230.6 603.6L231.9 601.4L233.2 599.3L234.7 597.3L236.3 595.4L238.2 593.6L240.2 592.2L242.4 591.0L244.8 590.1L247.2 589.6L249.7 589.3L252.2 589.4L254.7 589.9L257.0 590.7L259.3 591.8L261.4 593.2L263.4 594.7L265.2 596.4L266.9 598.2L268.6 600.1L270.2 602.0L271.8 604.0L273.4 605.9L274.9 607.9L276.5 609.9L278.0 611.9L279.4 614.0L280.8 616.0L282.2 618.1L283.5 620.3L284.8 622.4L286.0 624.6L287.3 626.8L288.5 629.0L289.7 631.2L290.8 633.4L292.0 635.6L293.2 637.9L294.4 640.1L295.5 642.3L296.7 644.5L297.9 646.7L299.2 648.9L300.5 651.0L301.8 653.2L303.1 655.3L304.5 657.4L305.9 659.5L307.3 661.6L308.7 663.6L310.2 665.7L311.7 667.7L313.2 669.7L314.7 671.7L316.2 673.7L317.8 675.6L319.3 677.6L320.9 679.6L322.5 681.5L324.1 683.4L325.7 685.4L327.3 687.3L328.9 689.2L330.6 691.1L332.2 693.0L333.8 694.9L335.5 696.8L337.1 698.7L338.7 700.6L340.4 702.5L342.0 704.4L343.7 706.3L345.4 708.2L347.0 710.1L348.7 711.9L350.3 713.8L352.0 715.7L353.7 717.6L355.3 719.4L357.0 721.3L358.7 723.2L360.4 725.1L362.0 726.9L363.7 728.8L365.4 730.7L367.1 732.5L368.7 734.4L370.4 736.3L372.1 738.1L373.8 740.0L375.5 741.8L377.2 743.7L378.9 745.5L380.6 747.4L382.3 749.2L384.0 751.1L385.7 752.9L387.4 754.7L389.1 756.6L390.9 758.4L392.6 760.2L394.3 762.0L396.1 763.8L397.8 765.6L399.6 767.4L401.3 769.2L403.1 771.0L404.9 772.8L406.6 774.5L408.4 776.3L410.2 778.1L412.0 779.8L413.8 781.6L415.6 783.3L417.4 785.0L419.3 786.7L421.2 788.4L423.0 790.0L425.0 791.7L426.9 793.2L428.9 794.8L431.0 796.2L433.0 797.6L435.1 799.0L437.3 800.3L439.5 801.4L441.8 802.5L444.1 803.6L446.4 804.5L448.7 805.4L451.1 806.3L453.5 807.0L455.9 807.8L458.3 808.5L460.7 809.2L463.1 809.9L465.5 810.6L467.9 811.3L470.3 812.0L472.7 812.7L475.1 813.5L477.5 814.2L479.9 815.0L482.3 815.8L484.7 816.6L487.0 817.4L489.4 818.3L491.8 819.1L494.1 820.0L496.5 820.8L498.8 821.7L501.2 822.5L503.6 823.2L506.0 823.9L508.5 824.5L510.9 825.1L513.4 825.6L515.8 826.0L518.3 826.4L520.8 826.7L523.3 827.0L525.8 827.3L528.3 827.5L530.8 827.7L533.3 827.9L535.8 828.0L538.3 828.2L540.8 828.3L543.3 828.5L545.8 828.6L548.3 828.8L550.8 829.0L553.3 829.2L555.8 829.4L558.3 829.6L560.8 829.8L563.3 830.0L565.8 830.3L568.3 830.5L570.8 830.8L573.3 831.1L575.8 831.4L578.3 831.7L580.8 832.1L583.3 832.4L585.7 832.8L588.2 833.2L590.7 833.5L593.2 833.9L595.7 834.3L598.1 834.7L600.6 835.0L603.1 835.4L605.6 835.8L608.1 836.1L610.6 836.4L613.1 836.7L615.6 837.0L618.1 837.2L620.6 837.4L623.1 837.5L625.6 837.6L628.1 837.5L630.6 837.4L633.1 837.3L635.6 837.1L638.1 836.9L640.6 836.6L643.1 836.3L645.6 836.1L648.1 835.8L650.6 835.5L653.1 835.3L655.6 835.1L658.1 834.9L660.6 834.8L663.1 834.7L665.6 834.7L668.1 834.7L670.6 834.7L673.1 834.8L675.6 834.9L678.1 835.0L680.6 835.2L683.1 835.3L685.7 835.4L688.2 835.6L690.7 835.7L693.2 835.8L695.7 835.9L698.2 836.0L700.7 836.1L703.2 836.2L705.7 836.3L708.2 836.4L710.7 836.5L713.2 836.6L715.7 836.7L718.2 836.8L720.8 836.9L723.3 837.0L725.8 837.0L728.3 837.1L730.8 837.2L733.3 837.3L735.8 837.3L738.3 837.4L740.8 837.4L743.3 837.5L745.8 837.5L748.3 837.6L750.9 837.6L753.4 837.7L755.9 837.7L758.4 837.7L760.9 837.7L763.4 837.8L765.9 837.8L768.4 837.7L770.9 837.7L773.4 837.6L775.9 837.5L778.5 837.3L781.0 837.2L783.5 837.0L786.0 836.9L788.5 836.7L791.0 836.6L793.5 836.6L796.0 836.5L798.5 836.6L801.0 836.7L803.5 836.8L806.0 836.9L808.5 837.1L811.0 837.2L813.5 837.4L816.0 837.6L818.5 837.8L821.0 838.0L823.5 838.2L826.0 838.4L828.5 838.6L831.0 838.7L833.6 838.9L836.1 839.0L838.6 839.2L841.1 839.3L843.6 839.4L846.1 839.5L848.6 839.6L851.1 839.6L853.6 839.7L856.1 839.8L858.6 839.8L861.1 839.8L863.6 839.8L866.2 839.8L868.7 839.8L871.2 839.8L873.7 839.8L876.2 839.8L878.7 839.8L881.2 839.8L883.7 839.8L886.2 839.8L888.7 839.8L891.3 839.8L893.8 839.8L896.3 839.8L898.8 839.8L901.3 839.8L903.8 839.8L906.3 839.8L908.8 839.8L911.3 839.8L913.8 839.8L916.3 839.8L918.9 839.8L921.4 839.8L923.9 839.8L926.4 839.8L928.9 839.8L931.4 839.8L933.9 839.8L936.4 839.8L938.9 839.8L941.4 839.8L943.9 839.8L946.5 839.8L949.0 839.8L951.5 839.8L954.0 839.8L956.5 839.8L959.0 839.8L961.5 839.8L964.0 839.8L966.5 839.8L969.0 839.8L971.6 839.8L974.1 839.8L976.6 839.8L979.1 839.8L981.6 839.8L984.1 839.8L986.6 839.8L989.1 839.8L991.6 839.8L994.1 839.8L996.6 839.8L999.2 839.8L1001.7 839.8L1004.2 839.8L1006.7 839.8L1009.2 839.8L1011.7 839.8L1014.2 839.8L1016.7 839.8L1019.2 839.8L1021.7 839.8L1024.2 839.8L1026.8 839.8L1029.3 839.8L1031.8 839.8L1034.3 839.8L1036.8 839.8L1039.3 839.8L1041.8 839.8L1044.3 839.8L1046.8 839.8L1049.3 839.8L1051.9 839.8L1054.4 839.8L1056.9 839.8L1059.4 839.8L1061.9 839.8L1064.4 839.8L1066.9 839.8L1069.4 839.8L1071.9 839.8L1074.4 839.8L1076.9 839.8L1079.5 839.8L1082.0 839.8L1084.5 839.8L1087.0 839.8L1089.5 839.8L1092.0 839.8" fill="none" stroke="#000" stroke-width="2.8" stroke-linejoin="round" stroke-linecap="round"/><g style="font-family:'Liberation Sans',sans-serif"><text x="93.6" y="46.2" font-size="34.65" font-weight="bold">Number of Steps Each Day of the Week</text><text x="95" y="87.3" font-size="29.7">Source: iPhone sleep cycle data (2014-2018)</text><text x="78.5" y="298.7" font-size="29.5" text-anchor="end">Sat</text><text x="78.5" y="389.0" font-size="29.5" text-anchor="end">Fri</text><text x="78.5" y="479.3" font-size="29.5" text-anchor="end">Thu</text><text x="78.5" y="569.6" font-size="29.5" text-anchor="end">Wed</text><text x="78.5" y="660.0" font-size="29.5" text-anchor="end">Tue</text><text x="78.5" y="750.3" font-size="29.5" text-anchor="end">Mon</text><text x="78.5" y="840.6" font-size="29.5" text-anchor="end">Sun</text><text x="177.35" y="883" font-size="29.5" text-anchor="middle">0</text><text x="481.48" y="883" font-size="29.5" text-anchor="middle">10000</text><text x="785.61" y="883" font-size="29.5" text-anchor="middle">20000</text><text x="1089.74" y="883" font-size="29.5" text-anchor="middle">30000</text><text x="1101" y="932" font-size="35" text-anchor="end">Steps</text><text x="1152.5" y="366.3" font-size="35">Steps</text><linearGradient id="lg" gradientUnits="userSpaceOnUse" x1="0" y1="611.49" x2="0" y2="429.01"><stop offset="0.000" stop-color="#060375"/><stop offset="0.033" stop-color="#18027b"/><stop offset="0.067" stop-color="#260081"/><stop offset="0.100" stop-color="#330087"/><stop offset="0.133" stop-color="#3f008d"/><stop offset="0.167" stop-color="#4a0093"/><stop offset="0.200" stop-color="#560099"/><stop offset="0.233" stop-color="#640095"/><stop offset="0.267" stop-color="#710090"/><stop offset="0.300" stop-color="#7d008c"/><stop offset="0.333" stop-color="#890088"/><stop offset="0.367" stop-color="#950083"/><stop offset="0.400" stop-color="#a0037f"/><stop offset="0.433" stop-color="#aa1377"/><stop offset="0.467" stop-color="#b31f6f"/><stop offset="0.500" stop-color="#bd2967"/><stop offset="0.533" stop-color="#c6335f"/><stop offset="0.567" stop-color="#ce3d57"/><stop offset="0.600" stop-color="#d7464f"/><stop offset="0.633" stop-color="#dc534a"/><stop offset="0.667" stop-color="#e26044"/><stop offset="0.700" stop-color="#e86c3e"/><stop offset="0.733" stop-color="#ed7837"/><stop offset="0.767" stop-color="#f2842f"/><stop offset="0.800" stop-color="#f79126"/><stop offset="0.833" stop-color="#f6a225"/><stop offset="0.867" stop-color="#f4b223"/><stop offset="0.900" stop-color="#f2c320"/><stop offset="0.933" stop-color="#efd31d"/><stop offset="0.967" stop-color="#ece41a"/><stop offset="1.000" stop-color="#e8f415"/></linearGradient><rect x="1153.90" y="424.20" width="38.20" height="191.80" fill="url(#lg)"/><line x1="1153.90" x2="1161.60" y1="598.00" y2="598.00" stroke="#fff" stroke-width="1.1" opacity="0.8"/><line x1="1184.40" x2="1192.10" y1="598.00" y2="598.00" stroke="#fff" stroke-width="1.1" opacity="0.8"/><text x="1209.5" y="608.50" font-size="29.5">0</text><line x1="1153.90" x2="1161.60" y1="541.80" y2="541.80" stroke="#fff" stroke-width="1.1" opacity="0.8"/><line x1="1184.40" x2="1192.10" y1="541.80" y2="541.80" stroke="#fff" stroke-width="1.1" opacity="0.8"/><text x="1209.5" y="552.30" font-size="29.5">10000</text><line x1="1153.90" x2="1161.60" y1="485.60" y2="485.60" stroke="#fff" stroke-width="1.1" opacity="0.8"/><line x1="1184.40" x2="1192.10" y1="485.60" y2="485.60" stroke="#fff" stroke-width="1.1" opacity="0.8"/><text x="1209.5" y="496.10" font-size="29.5">20000</text><line x1="1153.90" x2="1161.60" y1="429.40" y2="429.40" stroke="#fff" stroke-width="1.1" opacity="0.8"/><line x1="1184.40" x2="1192.10" y1="429.40" y2="429.40" stroke="#fff" stroke-width="1.1" opacity="0.8"/><text x="1209.5" y="439.90" font-size="29.5">30000</text></g></svg></body></html>
